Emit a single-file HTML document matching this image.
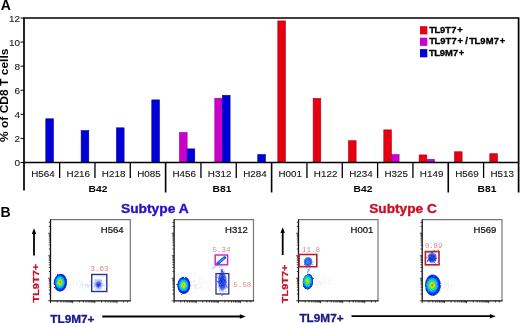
<!DOCTYPE html>
<html><head><meta charset="utf-8"><style>
html,body{margin:0;padding:0;background:#fff;overflow:hidden;}
svg{display:block;font-family:"Liberation Sans", sans-serif;filter:blur(0.3px);}
</style></head><body>
<svg width="520" height="323" viewBox="0 0 520 323">
<rect width="520" height="323" fill="#fff"/>
<text x="0.8" y="10.2" font-size="14" font-weight="bold" fill="#000">A</text>
<rect x="45.80" y="118.79" width="7.65" height="43.71" fill="#0000d8" stroke="#00009a" stroke-width="0.6"/>
<rect x="81.13" y="130.59" width="7.65" height="31.91" fill="#0000d8" stroke="#00009a" stroke-width="0.6"/>
<rect x="116.46" y="127.82" width="7.65" height="34.68" fill="#0000d8" stroke="#00009a" stroke-width="0.6"/>
<rect x="151.79" y="99.89" width="7.65" height="62.61" fill="#0000d8" stroke="#00009a" stroke-width="0.6"/>
<rect x="179.47" y="132.52" width="7.65" height="29.98" fill="#cc00cc" stroke="#9a009a" stroke-width="0.6"/>
<rect x="187.12" y="148.89" width="7.65" height="13.61" fill="#0000d8" stroke="#00009a" stroke-width="0.6"/>
<rect x="214.80" y="98.21" width="7.65" height="64.29" fill="#cc00cc" stroke="#9a009a" stroke-width="0.6"/>
<rect x="222.45" y="95.32" width="7.65" height="67.18" fill="#0000d8" stroke="#00009a" stroke-width="0.6"/>
<rect x="257.78" y="154.55" width="7.65" height="7.95" fill="#0000d8" stroke="#00009a" stroke-width="0.6"/>
<rect x="277.81" y="20.91" width="7.65" height="141.59" fill="#e60010" stroke="#b00010" stroke-width="0.6"/>
<rect x="313.14" y="98.45" width="7.65" height="64.05" fill="#e60010" stroke="#b00010" stroke-width="0.6"/>
<rect x="348.47" y="140.71" width="7.65" height="21.79" fill="#e60010" stroke="#b00010" stroke-width="0.6"/>
<rect x="383.80" y="129.87" width="7.65" height="32.63" fill="#e60010" stroke="#b00010" stroke-width="0.6"/>
<rect x="391.45" y="154.55" width="7.65" height="7.95" fill="#cc00cc" stroke="#9a009a" stroke-width="0.6"/>
<rect x="419.13" y="154.91" width="7.65" height="7.59" fill="#e60010" stroke="#b00010" stroke-width="0.6"/>
<rect x="426.78" y="159.25" width="7.65" height="3.25" fill="#cc00cc" stroke="#9a009a" stroke-width="0.6"/>
<rect x="454.46" y="151.78" width="7.65" height="10.72" fill="#e60010" stroke="#b00010" stroke-width="0.6"/>
<rect x="489.79" y="153.71" width="7.65" height="8.79" fill="#e60010" stroke="#b00010" stroke-width="0.6"/>
<path d="M24 18 H518.6 V192.5 M24 17.2 V190.6 M23.2 162.5 H519.4" stroke="#000" stroke-width="1.7" fill="none"/>
<path d="M20.5 162.50 H24" stroke="#000" stroke-width="1"/>
<text x="20.0" y="166.25" font-size="9.2" text-anchor="end" fill="#1a1a1a" stroke="#1a1a1a" stroke-width="0.1" textLength="5.6" lengthAdjust="spacingAndGlyphs">0</text>
<path d="M20.5 138.42 H24" stroke="#000" stroke-width="1"/>
<text x="20.0" y="142.17" font-size="9.2" text-anchor="end" fill="#1a1a1a" stroke="#1a1a1a" stroke-width="0.1" textLength="5.6" lengthAdjust="spacingAndGlyphs">2</text>
<path d="M20.5 114.34 H24" stroke="#000" stroke-width="1"/>
<text x="20.0" y="118.09" font-size="9.2" text-anchor="end" fill="#1a1a1a" stroke="#1a1a1a" stroke-width="0.1" textLength="5.6" lengthAdjust="spacingAndGlyphs">4</text>
<path d="M20.5 90.26 H24" stroke="#000" stroke-width="1"/>
<text x="20.0" y="94.01" font-size="9.2" text-anchor="end" fill="#1a1a1a" stroke="#1a1a1a" stroke-width="0.1" textLength="5.6" lengthAdjust="spacingAndGlyphs">6</text>
<path d="M20.5 66.18 H24" stroke="#000" stroke-width="1"/>
<text x="20.0" y="69.93" font-size="9.2" text-anchor="end" fill="#1a1a1a" stroke="#1a1a1a" stroke-width="0.1" textLength="5.6" lengthAdjust="spacingAndGlyphs">8</text>
<path d="M20.5 42.10 H24" stroke="#000" stroke-width="1"/>
<text x="20.0" y="45.85" font-size="9.2" text-anchor="end" fill="#1a1a1a" stroke="#1a1a1a" stroke-width="0.1" textLength="11.0" lengthAdjust="spacingAndGlyphs">10</text>
<path d="M20.5 18.02 H24" stroke="#000" stroke-width="1"/>
<text x="20.0" y="21.77" font-size="9.2" text-anchor="end" fill="#1a1a1a" stroke="#1a1a1a" stroke-width="0.1" textLength="11.0" lengthAdjust="spacingAndGlyphs">12</text>
<path d="M59.63 162.5 V178" stroke="#000" stroke-width="1.3"/>
<path d="M94.96 162.5 V178" stroke="#000" stroke-width="1.3"/>
<path d="M130.29 162.5 V178" stroke="#000" stroke-width="1.3"/>
<path d="M165.62 162.5 V192.5" stroke="#000" stroke-width="1.6"/>
<path d="M200.95 162.5 V178" stroke="#000" stroke-width="1.3"/>
<path d="M236.28 162.5 V178" stroke="#000" stroke-width="1.3"/>
<path d="M271.61 162.5 V192.5" stroke="#000" stroke-width="1.6"/>
<path d="M306.94 162.5 V178" stroke="#000" stroke-width="1.3"/>
<path d="M342.27 162.5 V178" stroke="#000" stroke-width="1.3"/>
<path d="M377.60 162.5 V178" stroke="#000" stroke-width="1.3"/>
<path d="M412.93 162.5 V178" stroke="#000" stroke-width="1.3"/>
<path d="M448.26 162.5 V192.5" stroke="#000" stroke-width="1.6"/>
<path d="M483.59 162.5 V178" stroke="#000" stroke-width="1.3"/>
<text x="42.97" y="177.4" font-size="9" text-anchor="middle" fill="#151515" stroke="#151515" stroke-width="0.12" textLength="23.5" lengthAdjust="spacingAndGlyphs">H564</text>
<text x="78.29" y="177.4" font-size="9" text-anchor="middle" fill="#151515" stroke="#151515" stroke-width="0.12" textLength="23.5" lengthAdjust="spacingAndGlyphs">H216</text>
<text x="113.62" y="177.4" font-size="9" text-anchor="middle" fill="#151515" stroke="#151515" stroke-width="0.12" textLength="23.5" lengthAdjust="spacingAndGlyphs">H218</text>
<text x="148.95" y="177.4" font-size="9" text-anchor="middle" fill="#151515" stroke="#151515" stroke-width="0.12" textLength="23.5" lengthAdjust="spacingAndGlyphs">H085</text>
<text x="184.28" y="177.4" font-size="9" text-anchor="middle" fill="#151515" stroke="#151515" stroke-width="0.12" textLength="23.5" lengthAdjust="spacingAndGlyphs">H456</text>
<text x="219.61" y="177.4" font-size="9" text-anchor="middle" fill="#151515" stroke="#151515" stroke-width="0.12" textLength="23.5" lengthAdjust="spacingAndGlyphs">H312</text>
<text x="254.94" y="177.4" font-size="9" text-anchor="middle" fill="#151515" stroke="#151515" stroke-width="0.12" textLength="23.5" lengthAdjust="spacingAndGlyphs">H284</text>
<text x="290.28" y="177.4" font-size="9" text-anchor="middle" fill="#151515" stroke="#151515" stroke-width="0.12" textLength="23.5" lengthAdjust="spacingAndGlyphs">H001</text>
<text x="325.61" y="177.4" font-size="9" text-anchor="middle" fill="#151515" stroke="#151515" stroke-width="0.12" textLength="23.5" lengthAdjust="spacingAndGlyphs">H122</text>
<text x="360.94" y="177.4" font-size="9" text-anchor="middle" fill="#151515" stroke="#151515" stroke-width="0.12" textLength="23.5" lengthAdjust="spacingAndGlyphs">H234</text>
<text x="396.26" y="177.4" font-size="9" text-anchor="middle" fill="#151515" stroke="#151515" stroke-width="0.12" textLength="23.5" lengthAdjust="spacingAndGlyphs">H325</text>
<text x="431.60" y="177.4" font-size="9" text-anchor="middle" fill="#151515" stroke="#151515" stroke-width="0.12" textLength="23.5" lengthAdjust="spacingAndGlyphs">H149</text>
<text x="466.93" y="177.4" font-size="9" text-anchor="middle" fill="#151515" stroke="#151515" stroke-width="0.12" textLength="23.5" lengthAdjust="spacingAndGlyphs">H569</text>
<text x="502.25" y="177.4" font-size="9" text-anchor="middle" fill="#151515" stroke="#151515" stroke-width="0.12" textLength="23.5" lengthAdjust="spacingAndGlyphs">H513</text>
<text x="98" y="191.8" font-size="9.3" font-weight="bold" text-anchor="middle" fill="#000" textLength="18.8" lengthAdjust="spacingAndGlyphs">B42</text>
<text x="222" y="191.8" font-size="9.3" font-weight="bold" text-anchor="middle" fill="#000" textLength="18.8" lengthAdjust="spacingAndGlyphs">B81</text>
<text x="363" y="191.8" font-size="9.3" font-weight="bold" text-anchor="middle" fill="#000" textLength="18.8" lengthAdjust="spacingAndGlyphs">B42</text>
<text x="487" y="191.8" font-size="9.3" font-weight="bold" text-anchor="middle" fill="#000" textLength="18.8" lengthAdjust="spacingAndGlyphs">B81</text>
<text transform="translate(8.4 95.3) rotate(-90)" font-size="10" font-weight="bold" text-anchor="middle" fill="#000" textLength="93.5" lengthAdjust="spacingAndGlyphs">% of CD8 T cells</text>
<rect x="420" y="26.20" width="7.3" height="8.2" fill="#e60010"/>
<text transform="translate(432.02 32.60) scale(1.12 1)" font-size="8.4" text-anchor="middle" font-weight="bold" fill="#000" stroke="#000" stroke-width="0.3">T</text>
<text transform="translate(437.29 32.60) scale(1.12 1)" font-size="8.4" text-anchor="middle" font-weight="bold" fill="#000" stroke="#000" stroke-width="0.3">L</text>
<text transform="translate(442.66 32.60) scale(1.12 1)" font-size="8.4" text-anchor="middle" font-weight="bold" fill="#000" stroke="#000" stroke-width="0.3">9</text>
<text transform="translate(448.22 32.60) scale(1.12 1)" font-size="8.4" text-anchor="middle" font-weight="bold" fill="#000" stroke="#000" stroke-width="0.3">T</text>
<text transform="translate(453.78 32.60) scale(1.12 1)" font-size="8.4" text-anchor="middle" font-weight="bold" fill="#000" stroke="#000" stroke-width="0.3">7</text>
<text transform="translate(459.96 32.60) scale(1.12 1)" font-size="8.4" text-anchor="middle" font-weight="bold" fill="#000" stroke="#000" stroke-width="0.3">+</text>
<rect x="420" y="37.65" width="7.3" height="8.2" fill="#cc00cc"/>
<text transform="translate(432.06 44.05) scale(1.12 1)" font-size="8.4" text-anchor="middle" font-weight="bold" fill="#000" stroke="#000" stroke-width="0.3">T</text>
<text transform="translate(437.39 44.05) scale(1.12 1)" font-size="8.4" text-anchor="middle" font-weight="bold" fill="#000" stroke="#000" stroke-width="0.3">L</text>
<text transform="translate(442.84 44.05) scale(1.12 1)" font-size="8.4" text-anchor="middle" font-weight="bold" fill="#000" stroke="#000" stroke-width="0.3">9</text>
<text transform="translate(448.47 44.05) scale(1.12 1)" font-size="8.4" text-anchor="middle" font-weight="bold" fill="#000" stroke="#000" stroke-width="0.3">T</text>
<text transform="translate(454.10 44.05) scale(1.12 1)" font-size="8.4" text-anchor="middle" font-weight="bold" fill="#000" stroke="#000" stroke-width="0.3">7</text>
<text transform="translate(460.36 44.05) scale(1.12 1)" font-size="8.4" text-anchor="middle" font-weight="bold" fill="#000" stroke="#000" stroke-width="0.3">+</text>
<text transform="translate(466.53 44.05) scale(1.12 1)" font-size="8.4" text-anchor="middle" font-weight="bold" fill="#000" stroke="#000" stroke-width="0.3">/</text>
<text transform="translate(472.07 44.05) scale(1.12 1)" font-size="8.4" text-anchor="middle" font-weight="bold" fill="#000" stroke="#000" stroke-width="0.3">T</text>
<text transform="translate(477.40 44.05) scale(1.12 1)" font-size="8.4" text-anchor="middle" font-weight="bold" fill="#000" stroke="#000" stroke-width="0.3">L</text>
<text transform="translate(482.85 44.05) scale(1.12 1)" font-size="8.4" text-anchor="middle" font-weight="bold" fill="#000" stroke="#000" stroke-width="0.3">9</text>
<text transform="translate(489.56 44.05) scale(1.12 1)" font-size="8.4" text-anchor="middle" font-weight="bold" fill="#000" stroke="#000" stroke-width="0.3">M</text>
<text transform="translate(496.26 44.05) scale(1.12 1)" font-size="8.4" text-anchor="middle" font-weight="bold" fill="#000" stroke="#000" stroke-width="0.3">7</text>
<text transform="translate(502.52 44.05) scale(1.12 1)" font-size="8.4" text-anchor="middle" font-weight="bold" fill="#000" stroke="#000" stroke-width="0.3">+</text>
<rect x="420" y="49.10" width="7.3" height="8.2" fill="#0000d8"/>
<text transform="translate(431.98 55.50) scale(1.12 1)" font-size="8.4" text-anchor="middle" font-weight="bold" fill="#000" stroke="#000" stroke-width="0.3">T</text>
<text transform="translate(437.17 55.50) scale(1.12 1)" font-size="8.4" text-anchor="middle" font-weight="bold" fill="#000" stroke="#000" stroke-width="0.3">L</text>
<text transform="translate(442.47 55.50) scale(1.12 1)" font-size="8.4" text-anchor="middle" font-weight="bold" fill="#000" stroke="#000" stroke-width="0.3">9</text>
<text transform="translate(449.00 55.50) scale(1.12 1)" font-size="8.4" text-anchor="middle" font-weight="bold" fill="#000" stroke="#000" stroke-width="0.3">M</text>
<text transform="translate(455.52 55.50) scale(1.12 1)" font-size="8.4" text-anchor="middle" font-weight="bold" fill="#000" stroke="#000" stroke-width="0.3">7</text>
<text transform="translate(461.61 55.50) scale(1.12 1)" font-size="8.4" text-anchor="middle" font-weight="bold" fill="#000" stroke="#000" stroke-width="0.3">+</text>
<text x="0.4" y="216.8" font-size="14" font-weight="bold" fill="#000">B</text>
<text x="121" y="212.9" font-size="12" font-weight="bold" fill="#2a12c4" stroke="#2a12c4" stroke-width="0.35" textLength="67.6" lengthAdjust="spacingAndGlyphs">Subtype A</text>
<text x="369.2" y="212.9" font-size="12" font-weight="bold" fill="#cc1028" stroke="#cc1028" stroke-width="0.35" textLength="67.6" lengthAdjust="spacingAndGlyphs">Subtype C</text>
<path d="M34 255.5 V232.3" stroke="#000" stroke-width="1.8"/>
<path d="M31.8 233.9 L34 228.3 L36.2 233.9 Z" fill="#000"/>
<path d="M282.7 255 V231.3" stroke="#000" stroke-width="1.8"/>
<path d="M280.5 232.9 L282.7 227.3 L284.9 232.9 Z" fill="#000"/>
<text transform="translate(38.7 283.2) rotate(-90)" font-size="9.8" font-weight="bold" text-anchor="middle" fill="#c8102a" stroke="#c8102a" stroke-width="0.25" textLength="38.6" lengthAdjust="spacingAndGlyphs">TL9T7+</text>
<text transform="translate(288.1 283.9) rotate(-90)" font-size="9.8" font-weight="bold" text-anchor="middle" fill="#c8102a" stroke="#c8102a" stroke-width="0.25" textLength="38.6" lengthAdjust="spacingAndGlyphs">TL9T7+</text>
<text x="50.3" y="322.6" font-size="10.8" font-weight="bold" fill="#1a1a88" stroke="#1a1a88" stroke-width="0.3" textLength="44.2" lengthAdjust="spacingAndGlyphs">TL9M7+</text>
<text x="299.4" y="322.3" font-size="10.8" font-weight="bold" fill="#1a1a88" stroke="#1a1a88" stroke-width="0.3" textLength="44.2" lengthAdjust="spacingAndGlyphs">TL9M7+</text>
<path d="M102.3 316.5 H241.8" stroke="#000" stroke-width="1.8"/>
<path d="M239.8 314.2 L245.8 316.5 L239.8 318.8 Z" fill="#000"/>
<path d="M351.5 316.2 H491.8" stroke="#000" stroke-width="1.8"/>
<path d="M489.8 313.9 L495.8 316.2 L489.8 318.5 Z" fill="#000"/>
<defs><filter id="rough" x="-30%" y="-30%" width="160%" height="160%"><feTurbulence type="fractalNoise" baseFrequency="0.9" numOctaves="2" seed="3" result="t"/><feDisplacementMap in="SourceGraphic" in2="t" scale="2.2" xChannelSelector="R" yChannelSelector="G"/></filter></defs>
<path d="M50.5 219.7 H130.3 V300.8" stroke="#777" stroke-width="1.2" fill="none"/>
<path d="M50.5 219.2 V300.8 H130.9" stroke="#111" stroke-width="1.3" fill="none"/>
<path d="M48.10 300.80 H50.5" stroke="#222" stroke-width="0.8"/>
<path d="M50.50 300.8 V303.20" stroke="#222" stroke-width="0.9"/>
<path d="M48.80 294.02 H50.5" stroke="#222" stroke-width="0.8"/>
<path d="M57.17 300.8 V302.50" stroke="#222" stroke-width="0.9"/>
<path d="M48.80 290.05 H50.5" stroke="#222" stroke-width="0.8"/>
<path d="M61.08 300.8 V302.50" stroke="#222" stroke-width="0.9"/>
<path d="M48.80 287.24 H50.5" stroke="#222" stroke-width="0.8"/>
<path d="M63.85 300.8 V302.50" stroke="#222" stroke-width="0.9"/>
<path d="M48.80 285.05 H50.5" stroke="#222" stroke-width="0.8"/>
<path d="M65.99 300.8 V302.50" stroke="#222" stroke-width="0.9"/>
<path d="M48.80 283.27 H50.5" stroke="#222" stroke-width="0.8"/>
<path d="M67.75 300.8 V302.50" stroke="#222" stroke-width="0.9"/>
<path d="M48.80 281.76 H50.5" stroke="#222" stroke-width="0.8"/>
<path d="M69.23 300.8 V302.50" stroke="#222" stroke-width="0.9"/>
<path d="M48.80 280.46 H50.5" stroke="#222" stroke-width="0.8"/>
<path d="M70.52 300.8 V302.50" stroke="#222" stroke-width="0.9"/>
<path d="M48.80 279.30 H50.5" stroke="#222" stroke-width="0.8"/>
<path d="M71.65 300.8 V302.50" stroke="#222" stroke-width="0.9"/>
<path d="M48.10 278.27 H50.5" stroke="#222" stroke-width="0.8"/>
<path d="M72.67 300.8 V303.20" stroke="#222" stroke-width="0.9"/>
<path d="M48.80 271.49 H50.5" stroke="#222" stroke-width="0.8"/>
<path d="M79.34 300.8 V302.50" stroke="#222" stroke-width="0.9"/>
<path d="M48.80 267.52 H50.5" stroke="#222" stroke-width="0.8"/>
<path d="M83.24 300.8 V302.50" stroke="#222" stroke-width="0.9"/>
<path d="M48.80 264.71 H50.5" stroke="#222" stroke-width="0.8"/>
<path d="M86.01 300.8 V302.50" stroke="#222" stroke-width="0.9"/>
<path d="M48.80 262.53 H50.5" stroke="#222" stroke-width="0.8"/>
<path d="M88.16 300.8 V302.50" stroke="#222" stroke-width="0.9"/>
<path d="M48.80 260.74 H50.5" stroke="#222" stroke-width="0.8"/>
<path d="M89.92 300.8 V302.50" stroke="#222" stroke-width="0.9"/>
<path d="M48.80 259.23 H50.5" stroke="#222" stroke-width="0.8"/>
<path d="M91.40 300.8 V302.50" stroke="#222" stroke-width="0.9"/>
<path d="M48.80 257.93 H50.5" stroke="#222" stroke-width="0.8"/>
<path d="M92.69 300.8 V302.50" stroke="#222" stroke-width="0.9"/>
<path d="M48.80 256.78 H50.5" stroke="#222" stroke-width="0.8"/>
<path d="M93.82 300.8 V302.50" stroke="#222" stroke-width="0.9"/>
<path d="M48.10 255.74 H50.5" stroke="#222" stroke-width="0.8"/>
<path d="M94.83 300.8 V303.20" stroke="#222" stroke-width="0.9"/>
<path d="M48.80 248.96 H50.5" stroke="#222" stroke-width="0.8"/>
<path d="M101.51 300.8 V302.50" stroke="#222" stroke-width="0.9"/>
<path d="M48.80 245.00 H50.5" stroke="#222" stroke-width="0.8"/>
<path d="M105.41 300.8 V302.50" stroke="#222" stroke-width="0.9"/>
<path d="M48.80 242.18 H50.5" stroke="#222" stroke-width="0.8"/>
<path d="M108.18 300.8 V302.50" stroke="#222" stroke-width="0.9"/>
<path d="M48.80 240.00 H50.5" stroke="#222" stroke-width="0.8"/>
<path d="M110.33 300.8 V302.50" stroke="#222" stroke-width="0.9"/>
<path d="M48.80 238.21 H50.5" stroke="#222" stroke-width="0.8"/>
<path d="M112.08 300.8 V302.50" stroke="#222" stroke-width="0.9"/>
<path d="M48.80 236.71 H50.5" stroke="#222" stroke-width="0.8"/>
<path d="M113.57 300.8 V302.50" stroke="#222" stroke-width="0.9"/>
<path d="M48.80 235.40 H50.5" stroke="#222" stroke-width="0.8"/>
<path d="M114.85 300.8 V302.50" stroke="#222" stroke-width="0.9"/>
<path d="M48.80 234.25 H50.5" stroke="#222" stroke-width="0.8"/>
<path d="M115.99 300.8 V302.50" stroke="#222" stroke-width="0.9"/>
<path d="M48.10 233.22 H50.5" stroke="#222" stroke-width="0.8"/>
<path d="M117.00 300.8 V303.20" stroke="#222" stroke-width="0.9"/>
<path d="M48.80 226.44 H50.5" stroke="#222" stroke-width="0.8"/>
<path d="M123.67 300.8 V302.50" stroke="#222" stroke-width="0.9"/>
<path d="M48.80 222.47 H50.5" stroke="#222" stroke-width="0.8"/>
<path d="M127.58 300.8 V302.50" stroke="#222" stroke-width="0.9"/>
<text x="100.8" y="233" font-size="9" fill="#111" stroke="#111" stroke-width="0.22" textLength="22.8" lengthAdjust="spacingAndGlyphs">H564</text>
<circle cx="77.46" cy="285.28" r="0.4" fill="#8898ff" opacity="0.4"/>
<circle cx="77.64" cy="283.21" r="0.4" fill="#8898ff" opacity="0.4"/>
<circle cx="73.42" cy="283.47" r="0.4" fill="#8898ff" opacity="0.4"/>
<circle cx="85.67" cy="285.06" r="0.4" fill="#8898ff" opacity="0.4"/>
<circle cx="85.22" cy="284.62" r="0.4" fill="#8898ff" opacity="0.4"/>
<circle cx="81.37" cy="284.46" r="0.4" fill="#8898ff" opacity="0.4"/>
<circle cx="69.00" cy="286.14" r="0.4" fill="#8898ff" opacity="0.4"/>
<circle cx="82.04" cy="285.25" r="0.4" fill="#8898ff" opacity="0.4"/>
<circle cx="68.85" cy="279.64" r="0.4" fill="#8898ff" opacity="0.4"/>
<circle cx="73.66" cy="282.83" r="0.4" fill="#8898ff" opacity="0.4"/>
<circle cx="80.83" cy="283.89" r="0.4" fill="#8898ff" opacity="0.4"/>
<circle cx="82.13" cy="282.39" r="0.4" fill="#8898ff" opacity="0.4"/>
<circle cx="80.85" cy="284.99" r="0.4" fill="#8898ff" opacity="0.4"/>
<circle cx="75.03" cy="288.29" r="0.4" fill="#8898ff" opacity="0.4"/>
<circle cx="82.34" cy="286.99" r="0.4" fill="#8898ff" opacity="0.4"/>
<circle cx="75.28" cy="282.15" r="0.4" fill="#8898ff" opacity="0.4"/>
<circle cx="76.94" cy="283.73" r="0.4" fill="#8898ff" opacity="0.4"/>
<circle cx="82.79" cy="284.62" r="0.4" fill="#8898ff" opacity="0.4"/>
<circle cx="76.32" cy="281.61" r="0.4" fill="#8898ff" opacity="0.4"/>
<circle cx="75.88" cy="287.05" r="0.4" fill="#8898ff" opacity="0.4"/>
<circle cx="74.15" cy="284.61" r="0.4" fill="#8898ff" opacity="0.4"/>
<circle cx="81.56" cy="280.28" r="0.4" fill="#8898ff" opacity="0.4"/>
<circle cx="79.29" cy="287.27" r="0.4" fill="#8898ff" opacity="0.4"/>
<circle cx="66.91" cy="283.20" r="0.4" fill="#8898ff" opacity="0.4"/>
<circle cx="78.36" cy="281.96" r="0.4" fill="#8898ff" opacity="0.4"/>
<circle cx="81.98" cy="283.84" r="0.4" fill="#8898ff" opacity="0.4"/>
<circle cx="70.21" cy="286.07" r="0.4" fill="#8898ff" opacity="0.4"/>
<circle cx="83.02" cy="286.36" r="0.4" fill="#8898ff" opacity="0.4"/>
<circle cx="87.64" cy="284.91" r="0.4" fill="#8898ff" opacity="0.4"/>
<circle cx="79.72" cy="280.75" r="0.4" fill="#8898ff" opacity="0.4"/>
<circle cx="82.69" cy="282.47" r="0.4" fill="#8898ff" opacity="0.4"/>
<circle cx="76.28" cy="280.84" r="0.4" fill="#8898ff" opacity="0.4"/>
<circle cx="73.19" cy="282.67" r="0.4" fill="#8898ff" opacity="0.4"/>
<circle cx="86.73" cy="278.92" r="0.4" fill="#8898ff" opacity="0.4"/>
<circle cx="70.25" cy="284.60" r="0.4" fill="#8898ff" opacity="0.4"/>
<circle cx="87.66" cy="285.45" r="0.4" fill="#8898ff" opacity="0.4"/>
<circle cx="67.60" cy="277.70" r="0.4" fill="#8898ff" opacity="0.4"/>
<circle cx="81.14" cy="282.16" r="0.4" fill="#8898ff" opacity="0.4"/>
<circle cx="72.28" cy="286.44" r="0.4" fill="#8898ff" opacity="0.4"/>
<circle cx="85.61" cy="284.39" r="0.4" fill="#8898ff" opacity="0.4"/>
<circle cx="80.47" cy="285.09" r="0.4" fill="#8898ff" opacity="0.4"/>
<circle cx="88.56" cy="285.55" r="0.4" fill="#8898ff" opacity="0.4"/>
<circle cx="82.11" cy="285.37" r="0.4" fill="#8898ff" opacity="0.4"/>
<circle cx="69.59" cy="287.20" r="0.4" fill="#8898ff" opacity="0.4"/>
<circle cx="84.73" cy="285.32" r="0.4" fill="#8898ff" opacity="0.4"/>
<circle cx="83.07" cy="283.73" r="0.45" fill="#8898ff" opacity="0.5"/>
<circle cx="90.11" cy="281.38" r="0.45" fill="#8898ff" opacity="0.5"/>
<circle cx="87.54" cy="287.04" r="0.45" fill="#8898ff" opacity="0.5"/>
<circle cx="84.72" cy="288.22" r="0.45" fill="#8898ff" opacity="0.5"/>
<circle cx="89.38" cy="284.70" r="0.45" fill="#8898ff" opacity="0.5"/>
<circle cx="88.81" cy="286.30" r="0.45" fill="#8898ff" opacity="0.5"/>
<circle cx="88.30" cy="287.29" r="0.45" fill="#8898ff" opacity="0.5"/>
<circle cx="86.35" cy="284.17" r="0.45" fill="#8898ff" opacity="0.5"/>
<circle cx="90.60" cy="285.05" r="0.45" fill="#8898ff" opacity="0.5"/>
<circle cx="85.80" cy="286.89" r="0.45" fill="#8898ff" opacity="0.5"/>
<circle cx="91.66" cy="284.11" r="0.45" fill="#8898ff" opacity="0.5"/>
<circle cx="84.55" cy="284.73" r="0.45" fill="#8898ff" opacity="0.5"/>
<circle cx="87.63" cy="284.40" r="0.45" fill="#8898ff" opacity="0.5"/>
<circle cx="91.51" cy="282.95" r="0.45" fill="#8898ff" opacity="0.5"/>
<circle cx="91.15" cy="282.46" r="0.45" fill="#8898ff" opacity="0.5"/>
<circle cx="86.03" cy="286.26" r="0.45" fill="#8898ff" opacity="0.5"/>
<circle cx="90.82" cy="286.72" r="0.45" fill="#8898ff" opacity="0.5"/>
<circle cx="88.86" cy="285.28" r="0.45" fill="#8898ff" opacity="0.5"/>
<circle cx="88.38" cy="286.15" r="0.45" fill="#8898ff" opacity="0.5"/>
<circle cx="87.56" cy="285.55" r="0.45" fill="#8898ff" opacity="0.5"/>
<radialGradient id="g1" cx="0.5" cy="0.5" r="0.5" fx="0.5" fy="0.5"><stop offset="0" stop-color="#1028d8" stop-opacity="1"/><stop offset="0.22" stop-color="#2040e0" stop-opacity="0.95"/><stop offset="0.5" stop-color="#5070ec" stop-opacity="0.55"/><stop offset="0.78" stop-color="#90a0f4" stop-opacity="0.3"/><stop offset="1" stop-color="#a0b0ff" stop-opacity="0"/></radialGradient>
<ellipse cx="98.4" cy="284.4" rx="6.0" ry="6.8" fill="url(#g1)" filter="url(#rough)"/>
<circle cx="99.89" cy="284.40" r="0.45" fill="#2a40e0" opacity="0.55"/>
<circle cx="100.39" cy="286.10" r="0.45" fill="#2a40e0" opacity="0.55"/>
<circle cx="103.63" cy="285.37" r="0.45" fill="#2a40e0" opacity="0.55"/>
<circle cx="97.29" cy="283.28" r="0.45" fill="#2a40e0" opacity="0.55"/>
<circle cx="98.37" cy="287.17" r="0.45" fill="#2a40e0" opacity="0.55"/>
<circle cx="97.52" cy="285.56" r="0.45" fill="#2a40e0" opacity="0.55"/>
<circle cx="103.18" cy="276.71" r="0.45" fill="#2a40e0" opacity="0.55"/>
<circle cx="95.48" cy="285.13" r="0.45" fill="#2a40e0" opacity="0.55"/>
<circle cx="99.44" cy="285.12" r="0.45" fill="#2a40e0" opacity="0.55"/>
<circle cx="97.28" cy="286.37" r="0.45" fill="#2a40e0" opacity="0.55"/>
<circle cx="99.13" cy="282.83" r="0.45" fill="#2a40e0" opacity="0.55"/>
<circle cx="104.72" cy="285.47" r="0.45" fill="#2a40e0" opacity="0.55"/>
<circle cx="96.96" cy="284.10" r="0.45" fill="#2a40e0" opacity="0.55"/>
<circle cx="97.81" cy="284.21" r="0.45" fill="#2a40e0" opacity="0.55"/>
<circle cx="91.31" cy="282.94" r="0.45" fill="#2a40e0" opacity="0.55"/>
<circle cx="101.02" cy="280.89" r="0.45" fill="#2a40e0" opacity="0.55"/>
<circle cx="98.23" cy="287.26" r="0.45" fill="#2a40e0" opacity="0.55"/>
<circle cx="100.63" cy="288.87" r="0.45" fill="#2a40e0" opacity="0.55"/>
<circle cx="93.98" cy="283.34" r="0.45" fill="#2a40e0" opacity="0.55"/>
<circle cx="97.51" cy="286.27" r="0.45" fill="#2a40e0" opacity="0.55"/>
<circle cx="101.24" cy="276.35" r="0.45" fill="#2a40e0" opacity="0.55"/>
<circle cx="101.23" cy="280.06" r="0.45" fill="#2a40e0" opacity="0.55"/>
<circle cx="100.18" cy="279.92" r="0.45" fill="#2a40e0" opacity="0.55"/>
<circle cx="98.86" cy="287.98" r="0.45" fill="#2a40e0" opacity="0.55"/>
<circle cx="98.01" cy="284.97" r="0.45" fill="#2a40e0" opacity="0.55"/>
<circle cx="100.47" cy="284.82" r="0.45" fill="#2a40e0" opacity="0.55"/>
<circle cx="98.17" cy="289.00" r="0.45" fill="#2a40e0" opacity="0.55"/>
<circle cx="101.13" cy="283.52" r="0.45" fill="#2a40e0" opacity="0.55"/>
<circle cx="105.54" cy="280.96" r="0.45" fill="#2a40e0" opacity="0.55"/>
<circle cx="100.78" cy="283.60" r="0.45" fill="#2a40e0" opacity="0.55"/>
<circle cx="98.74" cy="286.52" r="0.45" fill="#2a40e0" opacity="0.55"/>
<circle cx="98.98" cy="286.32" r="0.45" fill="#2a40e0" opacity="0.55"/>
<circle cx="94.43" cy="279.87" r="0.45" fill="#2a40e0" opacity="0.55"/>
<circle cx="100.00" cy="281.51" r="0.45" fill="#2a40e0" opacity="0.55"/>
<circle cx="95.73" cy="279.99" r="0.45" fill="#2a40e0" opacity="0.55"/>
<radialGradient id="g2" cx="0.44" cy="0.45" r="0.5" fx="0.44" fy="0.45"><stop offset="0" stop-color="#e83000" stop-opacity="1"/><stop offset="0.08" stop-color="#f08000" stop-opacity="1"/><stop offset="0.16" stop-color="#e8d800" stop-opacity="1"/><stop offset="0.26" stop-color="#90e830" stop-opacity="1"/><stop offset="0.37" stop-color="#30e070" stop-opacity="1"/><stop offset="0.5" stop-color="#00c8e0" stop-opacity="1"/><stop offset="0.62" stop-color="#0090ff" stop-opacity="1"/><stop offset="0.72" stop-color="#0040f0" stop-opacity="1"/><stop offset="0.85" stop-color="#0818d8" stop-opacity="1"/><stop offset="0.94" stop-color="#1828d0" stop-opacity="0.75"/><stop offset="1" stop-color="#3040e0" stop-opacity="0"/></radialGradient>
<ellipse cx="60.9" cy="283.3" rx="7.2" ry="9.6" fill="url(#g2)" filter="url(#rough)"/>
<rect x="91.7" y="274.5" width="15.1" height="17.0" fill="none" stroke="#28309a" stroke-width="1.4"/>
<text x="90.6" y="270.8" font-family="&quot;Liberation Mono&quot;, monospace" font-size="7.6" fill="#d68a8a" textLength="18" lengthAdjust="spacingAndGlyphs">3.63</text>
<path d="M174.1 219.7 H253.5 V300.8" stroke="#777" stroke-width="1.2" fill="none"/>
<path d="M174.1 219.2 V300.8 H254.1" stroke="#111" stroke-width="1.3" fill="none"/>
<path d="M171.70 300.80 H174.1" stroke="#222" stroke-width="0.8"/>
<path d="M174.10 300.8 V303.20" stroke="#222" stroke-width="0.9"/>
<path d="M172.40 294.02 H174.1" stroke="#222" stroke-width="0.8"/>
<path d="M180.74 300.8 V302.50" stroke="#222" stroke-width="0.9"/>
<path d="M172.40 290.05 H174.1" stroke="#222" stroke-width="0.8"/>
<path d="M184.62 300.8 V302.50" stroke="#222" stroke-width="0.9"/>
<path d="M172.40 287.24 H174.1" stroke="#222" stroke-width="0.8"/>
<path d="M187.38 300.8 V302.50" stroke="#222" stroke-width="0.9"/>
<path d="M172.40 285.05 H174.1" stroke="#222" stroke-width="0.8"/>
<path d="M189.52 300.8 V302.50" stroke="#222" stroke-width="0.9"/>
<path d="M172.40 283.27 H174.1" stroke="#222" stroke-width="0.8"/>
<path d="M191.26 300.8 V302.50" stroke="#222" stroke-width="0.9"/>
<path d="M172.40 281.76 H174.1" stroke="#222" stroke-width="0.8"/>
<path d="M192.74 300.8 V302.50" stroke="#222" stroke-width="0.9"/>
<path d="M172.40 280.46 H174.1" stroke="#222" stroke-width="0.8"/>
<path d="M194.02 300.8 V302.50" stroke="#222" stroke-width="0.9"/>
<path d="M172.40 279.30 H174.1" stroke="#222" stroke-width="0.8"/>
<path d="M195.15 300.8 V302.50" stroke="#222" stroke-width="0.9"/>
<path d="M171.70 278.27 H174.1" stroke="#222" stroke-width="0.8"/>
<path d="M196.16 300.8 V303.20" stroke="#222" stroke-width="0.9"/>
<path d="M172.40 271.49 H174.1" stroke="#222" stroke-width="0.8"/>
<path d="M202.79 300.8 V302.50" stroke="#222" stroke-width="0.9"/>
<path d="M172.40 267.52 H174.1" stroke="#222" stroke-width="0.8"/>
<path d="M206.68 300.8 V302.50" stroke="#222" stroke-width="0.9"/>
<path d="M172.40 264.71 H174.1" stroke="#222" stroke-width="0.8"/>
<path d="M209.43 300.8 V302.50" stroke="#222" stroke-width="0.9"/>
<path d="M172.40 262.53 H174.1" stroke="#222" stroke-width="0.8"/>
<path d="M211.57 300.8 V302.50" stroke="#222" stroke-width="0.9"/>
<path d="M172.40 260.74 H174.1" stroke="#222" stroke-width="0.8"/>
<path d="M213.32 300.8 V302.50" stroke="#222" stroke-width="0.9"/>
<path d="M172.40 259.23 H174.1" stroke="#222" stroke-width="0.8"/>
<path d="M214.79 300.8 V302.50" stroke="#222" stroke-width="0.9"/>
<path d="M172.40 257.93 H174.1" stroke="#222" stroke-width="0.8"/>
<path d="M216.07 300.8 V302.50" stroke="#222" stroke-width="0.9"/>
<path d="M172.40 256.78 H174.1" stroke="#222" stroke-width="0.8"/>
<path d="M217.20 300.8 V302.50" stroke="#222" stroke-width="0.9"/>
<path d="M171.70 255.74 H174.1" stroke="#222" stroke-width="0.8"/>
<path d="M218.21 300.8 V303.20" stroke="#222" stroke-width="0.9"/>
<path d="M172.40 248.96 H174.1" stroke="#222" stroke-width="0.8"/>
<path d="M224.85 300.8 V302.50" stroke="#222" stroke-width="0.9"/>
<path d="M172.40 245.00 H174.1" stroke="#222" stroke-width="0.8"/>
<path d="M228.73 300.8 V302.50" stroke="#222" stroke-width="0.9"/>
<path d="M172.40 242.18 H174.1" stroke="#222" stroke-width="0.8"/>
<path d="M231.49 300.8 V302.50" stroke="#222" stroke-width="0.9"/>
<path d="M172.40 240.00 H174.1" stroke="#222" stroke-width="0.8"/>
<path d="M233.63 300.8 V302.50" stroke="#222" stroke-width="0.9"/>
<path d="M172.40 238.21 H174.1" stroke="#222" stroke-width="0.8"/>
<path d="M235.37 300.8 V302.50" stroke="#222" stroke-width="0.9"/>
<path d="M172.40 236.71 H174.1" stroke="#222" stroke-width="0.8"/>
<path d="M236.85 300.8 V302.50" stroke="#222" stroke-width="0.9"/>
<path d="M172.40 235.40 H174.1" stroke="#222" stroke-width="0.8"/>
<path d="M238.13 300.8 V302.50" stroke="#222" stroke-width="0.9"/>
<path d="M172.40 234.25 H174.1" stroke="#222" stroke-width="0.8"/>
<path d="M239.26 300.8 V302.50" stroke="#222" stroke-width="0.9"/>
<path d="M171.70 233.22 H174.1" stroke="#222" stroke-width="0.8"/>
<path d="M240.27 300.8 V303.20" stroke="#222" stroke-width="0.9"/>
<path d="M172.40 226.44 H174.1" stroke="#222" stroke-width="0.8"/>
<path d="M246.91 300.8 V302.50" stroke="#222" stroke-width="0.9"/>
<path d="M172.40 222.47 H174.1" stroke="#222" stroke-width="0.8"/>
<path d="M250.79 300.8 V302.50" stroke="#222" stroke-width="0.9"/>
<text x="225" y="233" font-size="9" fill="#111" stroke="#111" stroke-width="0.22" textLength="22.8" lengthAdjust="spacingAndGlyphs">H312</text>
<circle cx="208.86" cy="286.99" r="0.4" fill="#8898ff" opacity="0.4"/>
<circle cx="210.31" cy="280.25" r="0.4" fill="#8898ff" opacity="0.4"/>
<circle cx="200.01" cy="279.44" r="0.4" fill="#8898ff" opacity="0.4"/>
<circle cx="205.36" cy="290.36" r="0.4" fill="#8898ff" opacity="0.4"/>
<circle cx="193.77" cy="290.24" r="0.4" fill="#8898ff" opacity="0.4"/>
<circle cx="206.92" cy="283.29" r="0.4" fill="#8898ff" opacity="0.4"/>
<circle cx="186.20" cy="289.63" r="0.4" fill="#8898ff" opacity="0.4"/>
<circle cx="199.33" cy="281.59" r="0.4" fill="#8898ff" opacity="0.4"/>
<circle cx="202.80" cy="285.64" r="0.4" fill="#8898ff" opacity="0.4"/>
<circle cx="210.49" cy="279.92" r="0.4" fill="#8898ff" opacity="0.4"/>
<circle cx="207.95" cy="289.95" r="0.4" fill="#8898ff" opacity="0.4"/>
<circle cx="210.17" cy="283.28" r="0.4" fill="#8898ff" opacity="0.4"/>
<circle cx="194.79" cy="288.07" r="0.4" fill="#8898ff" opacity="0.4"/>
<circle cx="200.81" cy="284.50" r="0.4" fill="#8898ff" opacity="0.4"/>
<circle cx="209.97" cy="282.95" r="0.4" fill="#8898ff" opacity="0.4"/>
<circle cx="183.92" cy="282.45" r="0.4" fill="#8898ff" opacity="0.4"/>
<circle cx="187.02" cy="287.28" r="0.4" fill="#8898ff" opacity="0.4"/>
<circle cx="202.22" cy="281.56" r="0.4" fill="#8898ff" opacity="0.4"/>
<circle cx="199.93" cy="287.33" r="0.4" fill="#8898ff" opacity="0.4"/>
<circle cx="200.55" cy="289.31" r="0.4" fill="#8898ff" opacity="0.4"/>
<circle cx="199.57" cy="288.16" r="0.4" fill="#8898ff" opacity="0.4"/>
<circle cx="210.44" cy="290.44" r="0.4" fill="#8898ff" opacity="0.4"/>
<circle cx="195.30" cy="287.52" r="0.4" fill="#8898ff" opacity="0.4"/>
<circle cx="186.87" cy="279.67" r="0.4" fill="#8898ff" opacity="0.4"/>
<circle cx="186.26" cy="288.28" r="0.4" fill="#8898ff" opacity="0.4"/>
<circle cx="191.38" cy="283.95" r="0.4" fill="#8898ff" opacity="0.4"/>
<circle cx="198.65" cy="283.89" r="0.4" fill="#8898ff" opacity="0.4"/>
<circle cx="195.86" cy="284.93" r="0.4" fill="#8898ff" opacity="0.4"/>
<circle cx="212.54" cy="284.18" r="0.4" fill="#8898ff" opacity="0.4"/>
<circle cx="203.72" cy="288.00" r="0.4" fill="#8898ff" opacity="0.4"/>
<circle cx="198.61" cy="278.96" r="0.4" fill="#8898ff" opacity="0.4"/>
<circle cx="196.11" cy="288.29" r="0.4" fill="#8898ff" opacity="0.4"/>
<circle cx="188.48" cy="281.61" r="0.4" fill="#8898ff" opacity="0.4"/>
<circle cx="207.05" cy="287.17" r="0.4" fill="#8898ff" opacity="0.4"/>
<circle cx="200.05" cy="287.22" r="0.4" fill="#8898ff" opacity="0.4"/>
<circle cx="201.16" cy="279.28" r="0.4" fill="#8898ff" opacity="0.4"/>
<circle cx="189.05" cy="281.44" r="0.4" fill="#8898ff" opacity="0.4"/>
<circle cx="206.46" cy="281.74" r="0.4" fill="#8898ff" opacity="0.4"/>
<circle cx="193.68" cy="280.92" r="0.4" fill="#8898ff" opacity="0.4"/>
<circle cx="189.28" cy="283.53" r="0.4" fill="#8898ff" opacity="0.4"/>
<circle cx="191.74" cy="285.46" r="0.4" fill="#8898ff" opacity="0.4"/>
<circle cx="183.48" cy="285.31" r="0.4" fill="#8898ff" opacity="0.4"/>
<circle cx="195.51" cy="276.23" r="0.4" fill="#8898ff" opacity="0.4"/>
<circle cx="205.07" cy="282.90" r="0.4" fill="#8898ff" opacity="0.4"/>
<circle cx="184.39" cy="280.50" r="0.4" fill="#8898ff" opacity="0.4"/>
<circle cx="194.73" cy="281.17" r="0.45" fill="#a0a8ff" opacity="0.5"/>
<circle cx="195.95" cy="285.99" r="0.45" fill="#a0a8ff" opacity="0.5"/>
<circle cx="195.67" cy="284.31" r="0.45" fill="#a0a8ff" opacity="0.5"/>
<circle cx="197.33" cy="285.64" r="0.45" fill="#a0a8ff" opacity="0.5"/>
<circle cx="195.13" cy="274.66" r="0.45" fill="#a0a8ff" opacity="0.5"/>
<circle cx="196.24" cy="288.24" r="0.45" fill="#a0a8ff" opacity="0.5"/>
<circle cx="193.26" cy="281.12" r="0.45" fill="#a0a8ff" opacity="0.5"/>
<circle cx="198.85" cy="275.97" r="0.45" fill="#a0a8ff" opacity="0.5"/>
<circle cx="195.17" cy="292.69" r="0.45" fill="#a0a8ff" opacity="0.5"/>
<circle cx="191.68" cy="285.76" r="0.45" fill="#a0a8ff" opacity="0.5"/>
<circle cx="198.72" cy="282.52" r="0.45" fill="#a0a8ff" opacity="0.5"/>
<circle cx="195.40" cy="286.61" r="0.45" fill="#a0a8ff" opacity="0.5"/>
<circle cx="191.74" cy="282.64" r="0.45" fill="#a0a8ff" opacity="0.5"/>
<circle cx="194.73" cy="286.30" r="0.45" fill="#a0a8ff" opacity="0.5"/>
<circle cx="193.91" cy="282.22" r="0.45" fill="#a0a8ff" opacity="0.5"/>
<circle cx="191.46" cy="281.56" r="0.45" fill="#a0a8ff" opacity="0.5"/>
<circle cx="196.23" cy="283.41" r="0.45" fill="#a0a8ff" opacity="0.5"/>
<circle cx="191.87" cy="279.63" r="0.45" fill="#a0a8ff" opacity="0.5"/>
<circle cx="200.67" cy="287.56" r="0.45" fill="#a0a8ff" opacity="0.5"/>
<circle cx="195.59" cy="272.63" r="0.45" fill="#a0a8ff" opacity="0.5"/>
<circle cx="195.55" cy="284.92" r="0.45" fill="#a0a8ff" opacity="0.5"/>
<circle cx="198.21" cy="284.71" r="0.45" fill="#a0a8ff" opacity="0.5"/>
<circle cx="193.83" cy="285.09" r="0.45" fill="#a0a8ff" opacity="0.5"/>
<circle cx="189.14" cy="287.13" r="0.45" fill="#a0a8ff" opacity="0.5"/>
<circle cx="194.81" cy="280.19" r="0.45" fill="#a0a8ff" opacity="0.5"/>
<radialGradient id="g3" cx="0.5" cy="0.5" r="0.5" fx="0.5" fy="0.5"><stop offset="0" stop-color="#1030e0" stop-opacity="1"/><stop offset="0.4" stop-color="#1838e0" stop-opacity="1"/><stop offset="0.7" stop-color="#3050e8" stop-opacity="0.8"/><stop offset="1" stop-color="#6080ff" stop-opacity="0"/></radialGradient>
<ellipse cx="222.3" cy="281.5" rx="5.2" ry="11" fill="url(#g3)" filter="url(#rough)"/>
<circle cx="225.75" cy="291.45" r="0.5" fill="#2038d8" opacity="0.7"/>
<circle cx="218.65" cy="277.84" r="0.5" fill="#2038d8" opacity="0.7"/>
<circle cx="223.06" cy="282.51" r="0.5" fill="#2038d8" opacity="0.7"/>
<circle cx="221.26" cy="276.14" r="0.5" fill="#2038d8" opacity="0.7"/>
<circle cx="227.81" cy="287.21" r="0.5" fill="#2038d8" opacity="0.7"/>
<circle cx="219.20" cy="274.10" r="0.5" fill="#2038d8" opacity="0.7"/>
<circle cx="226.73" cy="286.94" r="0.5" fill="#2038d8" opacity="0.7"/>
<circle cx="227.03" cy="285.96" r="0.5" fill="#2038d8" opacity="0.7"/>
<circle cx="220.03" cy="282.93" r="0.5" fill="#2038d8" opacity="0.7"/>
<circle cx="216.68" cy="277.39" r="0.5" fill="#2038d8" opacity="0.7"/>
<circle cx="222.15" cy="284.38" r="0.5" fill="#2038d8" opacity="0.7"/>
<circle cx="220.41" cy="280.82" r="0.5" fill="#2038d8" opacity="0.7"/>
<circle cx="223.49" cy="283.57" r="0.5" fill="#2038d8" opacity="0.7"/>
<circle cx="223.96" cy="282.65" r="0.5" fill="#2038d8" opacity="0.7"/>
<circle cx="221.46" cy="285.84" r="0.5" fill="#2038d8" opacity="0.7"/>
<circle cx="222.43" cy="276.96" r="0.5" fill="#2038d8" opacity="0.7"/>
<circle cx="220.67" cy="281.50" r="0.5" fill="#2038d8" opacity="0.7"/>
<circle cx="222.02" cy="282.36" r="0.5" fill="#2038d8" opacity="0.7"/>
<circle cx="222.30" cy="282.47" r="0.5" fill="#2038d8" opacity="0.7"/>
<circle cx="221.95" cy="274.58" r="0.5" fill="#2038d8" opacity="0.7"/>
<circle cx="223.40" cy="287.30" r="0.5" fill="#2038d8" opacity="0.7"/>
<circle cx="223.43" cy="280.46" r="0.5" fill="#2038d8" opacity="0.7"/>
<circle cx="223.46" cy="276.19" r="0.5" fill="#2038d8" opacity="0.7"/>
<circle cx="217.37" cy="281.83" r="0.5" fill="#2038d8" opacity="0.7"/>
<circle cx="219.88" cy="285.57" r="0.5" fill="#2038d8" opacity="0.7"/>
<circle cx="219.48" cy="267.04" r="0.5" fill="#2038d8" opacity="0.7"/>
<circle cx="219.60" cy="290.18" r="0.5" fill="#2038d8" opacity="0.7"/>
<circle cx="221.31" cy="273.97" r="0.5" fill="#2038d8" opacity="0.7"/>
<circle cx="220.32" cy="284.36" r="0.5" fill="#2038d8" opacity="0.7"/>
<circle cx="223.59" cy="282.47" r="0.5" fill="#2038d8" opacity="0.7"/>
<circle cx="226.16" cy="285.39" r="0.5" fill="#2038d8" opacity="0.7"/>
<circle cx="222.25" cy="284.78" r="0.5" fill="#2038d8" opacity="0.7"/>
<circle cx="226.60" cy="286.84" r="0.5" fill="#2038d8" opacity="0.7"/>
<circle cx="224.96" cy="275.54" r="0.5" fill="#2038d8" opacity="0.7"/>
<circle cx="221.91" cy="285.51" r="0.5" fill="#2038d8" opacity="0.7"/>
<circle cx="221.53" cy="287.38" r="0.5" fill="#2038d8" opacity="0.7"/>
<circle cx="223.85" cy="286.50" r="0.5" fill="#2038d8" opacity="0.7"/>
<circle cx="221.75" cy="295.51" r="0.5" fill="#2038d8" opacity="0.7"/>
<circle cx="225.52" cy="280.32" r="0.5" fill="#2038d8" opacity="0.7"/>
<circle cx="222.54" cy="295.77" r="0.5" fill="#2038d8" opacity="0.7"/>
<circle cx="221.41" cy="286.31" r="0.5" fill="#2038d8" opacity="0.7"/>
<circle cx="224.85" cy="281.54" r="0.5" fill="#2038d8" opacity="0.7"/>
<circle cx="219.27" cy="282.53" r="0.5" fill="#2038d8" opacity="0.7"/>
<circle cx="223.23" cy="287.71" r="0.5" fill="#2038d8" opacity="0.7"/>
<circle cx="224.34" cy="281.63" r="0.5" fill="#2038d8" opacity="0.7"/>
<circle cx="224.52" cy="284.47" r="0.5" fill="#2038d8" opacity="0.7"/>
<circle cx="222.84" cy="281.80" r="0.5" fill="#2038d8" opacity="0.7"/>
<circle cx="221.67" cy="285.27" r="0.5" fill="#2038d8" opacity="0.7"/>
<circle cx="219.56" cy="278.04" r="0.5" fill="#2038d8" opacity="0.7"/>
<circle cx="222.31" cy="273.45" r="0.5" fill="#2038d8" opacity="0.7"/>
<circle cx="221.17" cy="270.45" r="0.5" fill="#2038d8" opacity="0.7"/>
<circle cx="220.52" cy="284.63" r="0.5" fill="#2038d8" opacity="0.7"/>
<circle cx="223.77" cy="281.20" r="0.5" fill="#2038d8" opacity="0.7"/>
<circle cx="221.70" cy="273.71" r="0.5" fill="#2038d8" opacity="0.7"/>
<circle cx="227.05" cy="284.34" r="0.5" fill="#2038d8" opacity="0.7"/>
<circle cx="225.14" cy="276.65" r="0.5" fill="#2038d8" opacity="0.7"/>
<circle cx="221.82" cy="271.49" r="0.5" fill="#2038d8" opacity="0.7"/>
<circle cx="224.33" cy="286.64" r="0.5" fill="#2038d8" opacity="0.7"/>
<circle cx="217.37" cy="281.21" r="0.5" fill="#2038d8" opacity="0.7"/>
<circle cx="223.94" cy="271.81" r="0.5" fill="#2038d8" opacity="0.7"/>
<circle cx="217.55" cy="275.64" r="0.5" fill="#2038d8" opacity="0.7"/>
<circle cx="220.66" cy="273.78" r="0.5" fill="#2038d8" opacity="0.7"/>
<circle cx="222.38" cy="282.87" r="0.5" fill="#2038d8" opacity="0.7"/>
<circle cx="223.95" cy="285.36" r="0.5" fill="#2038d8" opacity="0.7"/>
<circle cx="226.21" cy="287.90" r="0.5" fill="#2038d8" opacity="0.7"/>
<circle cx="218.89" cy="278.72" r="0.5" fill="#2038d8" opacity="0.7"/>
<circle cx="219.54" cy="275.58" r="0.5" fill="#2038d8" opacity="0.7"/>
<circle cx="222.09" cy="281.53" r="0.5" fill="#2038d8" opacity="0.7"/>
<circle cx="223.57" cy="272.77" r="0.5" fill="#2038d8" opacity="0.7"/>
<circle cx="219.08" cy="281.37" r="0.5" fill="#2038d8" opacity="0.7"/>
<circle cx="221.78" cy="279.79" r="0.5" fill="#2038d8" opacity="0.7"/>
<circle cx="222.14" cy="277.32" r="0.5" fill="#2038d8" opacity="0.7"/>
<circle cx="224.12" cy="283.45" r="0.5" fill="#2038d8" opacity="0.7"/>
<circle cx="222.07" cy="277.80" r="0.5" fill="#2038d8" opacity="0.7"/>
<circle cx="221.85" cy="266.53" r="0.5" fill="#2038d8" opacity="0.7"/>
<circle cx="219.75" cy="281.71" r="0.5" fill="#2038d8" opacity="0.7"/>
<circle cx="218.39" cy="282.60" r="0.5" fill="#2038d8" opacity="0.7"/>
<circle cx="222.68" cy="273.92" r="0.5" fill="#2038d8" opacity="0.7"/>
<circle cx="221.65" cy="279.77" r="0.5" fill="#2038d8" opacity="0.7"/>
<circle cx="223.50" cy="284.87" r="0.5" fill="#2038d8" opacity="0.7"/>
<circle cx="222.23" cy="278.74" r="0.45" fill="#7090f0" opacity="0.7"/>
<circle cx="222.01" cy="282.67" r="0.45" fill="#7090f0" opacity="0.7"/>
<circle cx="223.77" cy="284.47" r="0.45" fill="#7090f0" opacity="0.7"/>
<circle cx="220.85" cy="276.23" r="0.45" fill="#7090f0" opacity="0.7"/>
<circle cx="221.55" cy="279.30" r="0.45" fill="#7090f0" opacity="0.7"/>
<circle cx="220.08" cy="282.42" r="0.45" fill="#7090f0" opacity="0.7"/>
<circle cx="221.32" cy="283.53" r="0.45" fill="#7090f0" opacity="0.7"/>
<circle cx="223.35" cy="280.93" r="0.45" fill="#7090f0" opacity="0.7"/>
<circle cx="226.95" cy="281.39" r="0.45" fill="#7090f0" opacity="0.7"/>
<circle cx="224.50" cy="283.61" r="0.45" fill="#7090f0" opacity="0.7"/>
<circle cx="224.53" cy="271.12" r="0.45" fill="#7090f0" opacity="0.7"/>
<circle cx="220.80" cy="284.24" r="0.45" fill="#7090f0" opacity="0.7"/>
<circle cx="223.50" cy="294.68" r="0.45" fill="#7090f0" opacity="0.7"/>
<circle cx="222.95" cy="289.40" r="0.45" fill="#7090f0" opacity="0.7"/>
<circle cx="223.83" cy="287.74" r="0.45" fill="#7090f0" opacity="0.7"/>
<circle cx="223.32" cy="282.22" r="0.45" fill="#7090f0" opacity="0.7"/>
<circle cx="223.32" cy="277.61" r="0.45" fill="#7090f0" opacity="0.7"/>
<circle cx="224.66" cy="277.91" r="0.45" fill="#7090f0" opacity="0.7"/>
<circle cx="222.80" cy="293.60" r="0.45" fill="#7090f0" opacity="0.7"/>
<circle cx="221.85" cy="283.10" r="0.45" fill="#7090f0" opacity="0.7"/>
<circle cx="224.63" cy="283.13" r="0.45" fill="#7090f0" opacity="0.7"/>
<circle cx="220.68" cy="284.29" r="0.45" fill="#7090f0" opacity="0.7"/>
<circle cx="223.46" cy="286.55" r="0.45" fill="#7090f0" opacity="0.7"/>
<circle cx="220.75" cy="291.76" r="0.45" fill="#7090f0" opacity="0.7"/>
<circle cx="225.63" cy="283.09" r="0.45" fill="#7090f0" opacity="0.7"/>
<circle cx="222.84" cy="280.86" r="0.45" fill="#7090f0" opacity="0.7"/>
<circle cx="225.13" cy="279.48" r="0.45" fill="#7090f0" opacity="0.7"/>
<circle cx="223.65" cy="280.60" r="0.45" fill="#7090f0" opacity="0.7"/>
<circle cx="220.91" cy="286.59" r="0.45" fill="#7090f0" opacity="0.7"/>
<circle cx="224.97" cy="282.95" r="0.45" fill="#7090f0" opacity="0.7"/>
<circle cx="220.95" cy="287.06" r="0.45" fill="#7090f0" opacity="0.7"/>
<circle cx="222.20" cy="284.55" r="0.45" fill="#7090f0" opacity="0.7"/>
<circle cx="225.35" cy="288.66" r="0.45" fill="#7090f0" opacity="0.7"/>
<circle cx="221.26" cy="294.42" r="0.45" fill="#7090f0" opacity="0.7"/>
<circle cx="222.31" cy="286.93" r="0.45" fill="#7090f0" opacity="0.7"/>
<circle cx="221.55" cy="271.43" r="0.5" fill="#2040e0" opacity="0.8"/>
<circle cx="220.78" cy="274.36" r="0.5" fill="#2040e0" opacity="0.8"/>
<circle cx="222.96" cy="269.56" r="0.5" fill="#2040e0" opacity="0.8"/>
<circle cx="220.95" cy="268.91" r="0.5" fill="#2040e0" opacity="0.8"/>
<circle cx="222.82" cy="270.76" r="0.5" fill="#2040e0" opacity="0.8"/>
<circle cx="221.96" cy="271.00" r="0.5" fill="#2040e0" opacity="0.8"/>
<circle cx="221.92" cy="269.76" r="0.5" fill="#2040e0" opacity="0.8"/>
<circle cx="222.02" cy="269.20" r="0.5" fill="#2040e0" opacity="0.8"/>
<circle cx="221.95" cy="271.99" r="0.5" fill="#2040e0" opacity="0.8"/>
<circle cx="222.33" cy="271.13" r="0.5" fill="#2040e0" opacity="0.8"/>
<circle cx="221.37" cy="271.76" r="0.5" fill="#2040e0" opacity="0.8"/>
<circle cx="221.66" cy="274.01" r="0.5" fill="#2040e0" opacity="0.8"/>
<circle cx="222.54" cy="271.32" r="0.5" fill="#2040e0" opacity="0.8"/>
<circle cx="221.67" cy="270.38" r="0.5" fill="#2040e0" opacity="0.8"/>
<circle cx="221.34" cy="270.94" r="0.5" fill="#2040e0" opacity="0.8"/>
<circle cx="222.21" cy="272.32" r="0.5" fill="#2040e0" opacity="0.8"/>
<circle cx="222.40" cy="274.86" r="0.5" fill="#2040e0" opacity="0.8"/>
<circle cx="221.51" cy="271.52" r="0.5" fill="#2040e0" opacity="0.8"/>
<radialGradient id="g4" cx="0.43" cy="0.48" r="0.5" fx="0.43" fy="0.48"><stop offset="0" stop-color="#e83000" stop-opacity="1"/><stop offset="0.08" stop-color="#f08000" stop-opacity="1"/><stop offset="0.16" stop-color="#e8d800" stop-opacity="1"/><stop offset="0.26" stop-color="#90e830" stop-opacity="1"/><stop offset="0.37" stop-color="#30e070" stop-opacity="1"/><stop offset="0.5" stop-color="#00c8e0" stop-opacity="1"/><stop offset="0.62" stop-color="#0090ff" stop-opacity="1"/><stop offset="0.72" stop-color="#0040f0" stop-opacity="1"/><stop offset="0.85" stop-color="#0818d8" stop-opacity="1"/><stop offset="0.94" stop-color="#1828d0" stop-opacity="0.75"/><stop offset="1" stop-color="#3040e0" stop-opacity="0"/></radialGradient>
<ellipse cx="184.5" cy="285.6" rx="7.2" ry="9.2" fill="url(#g4)" filter="url(#rough)"/>
<path d="M217.2 264.8 L212.6 268.6" stroke="#4060e8" stroke-width="1" stroke-linecap="round" opacity="0.6"/>
<path d="M217.8 263.6 Q220.5 260.8 224.6 257.6" stroke="#1a50f0" stroke-width="3.1" stroke-linecap="round"/>
<path d="M219.0 262.3 Q221.2 260.2 223.6 258.4" stroke="#10b8f0" stroke-width="1.3" stroke-linecap="round"/>
<rect x="215.2" y="255" width="12.4" height="9.8" fill="none" stroke="#c81ec8" stroke-width="1.4"/>
<rect x="216" y="273.6" width="12.8" height="20.4" fill="none" stroke="#28309a" stroke-width="1.3"/>
<text x="212.5" y="252" font-family="&quot;Liberation Mono&quot;, monospace" font-size="7.6" fill="#d68a8a" textLength="18" lengthAdjust="spacingAndGlyphs">5.34</text>
<text x="233.3" y="286.6" font-family="&quot;Liberation Mono&quot;, monospace" font-size="7.6" fill="#d68a8a" textLength="18" lengthAdjust="spacingAndGlyphs">5.58</text>
<path d="M298.5 219.7 H378 V300.8" stroke="#777" stroke-width="1.2" fill="none"/>
<path d="M298.5 219.2 V300.8 H378.6" stroke="#111" stroke-width="1.3" fill="none"/>
<path d="M296.10 300.80 H298.5" stroke="#222" stroke-width="0.8"/>
<path d="M298.50 300.8 V303.20" stroke="#222" stroke-width="0.9"/>
<path d="M296.80 294.02 H298.5" stroke="#222" stroke-width="0.8"/>
<path d="M305.15 300.8 V302.50" stroke="#222" stroke-width="0.9"/>
<path d="M296.80 290.05 H298.5" stroke="#222" stroke-width="0.8"/>
<path d="M309.04 300.8 V302.50" stroke="#222" stroke-width="0.9"/>
<path d="M296.80 287.24 H298.5" stroke="#222" stroke-width="0.8"/>
<path d="M311.80 300.8 V302.50" stroke="#222" stroke-width="0.9"/>
<path d="M296.80 285.05 H298.5" stroke="#222" stroke-width="0.8"/>
<path d="M313.94 300.8 V302.50" stroke="#222" stroke-width="0.9"/>
<path d="M296.80 283.27 H298.5" stroke="#222" stroke-width="0.8"/>
<path d="M315.68 300.8 V302.50" stroke="#222" stroke-width="0.9"/>
<path d="M296.80 281.76 H298.5" stroke="#222" stroke-width="0.8"/>
<path d="M317.16 300.8 V302.50" stroke="#222" stroke-width="0.9"/>
<path d="M296.80 280.46 H298.5" stroke="#222" stroke-width="0.8"/>
<path d="M318.44 300.8 V302.50" stroke="#222" stroke-width="0.9"/>
<path d="M296.80 279.30 H298.5" stroke="#222" stroke-width="0.8"/>
<path d="M319.57 300.8 V302.50" stroke="#222" stroke-width="0.9"/>
<path d="M296.10 278.27 H298.5" stroke="#222" stroke-width="0.8"/>
<path d="M320.58 300.8 V303.20" stroke="#222" stroke-width="0.9"/>
<path d="M296.80 271.49 H298.5" stroke="#222" stroke-width="0.8"/>
<path d="M327.23 300.8 V302.50" stroke="#222" stroke-width="0.9"/>
<path d="M296.80 267.52 H298.5" stroke="#222" stroke-width="0.8"/>
<path d="M331.12 300.8 V302.50" stroke="#222" stroke-width="0.9"/>
<path d="M296.80 264.71 H298.5" stroke="#222" stroke-width="0.8"/>
<path d="M333.88 300.8 V302.50" stroke="#222" stroke-width="0.9"/>
<path d="M296.80 262.53 H298.5" stroke="#222" stroke-width="0.8"/>
<path d="M336.02 300.8 V302.50" stroke="#222" stroke-width="0.9"/>
<path d="M296.80 260.74 H298.5" stroke="#222" stroke-width="0.8"/>
<path d="M337.77 300.8 V302.50" stroke="#222" stroke-width="0.9"/>
<path d="M296.80 259.23 H298.5" stroke="#222" stroke-width="0.8"/>
<path d="M339.25 300.8 V302.50" stroke="#222" stroke-width="0.9"/>
<path d="M296.80 257.93 H298.5" stroke="#222" stroke-width="0.8"/>
<path d="M340.53 300.8 V302.50" stroke="#222" stroke-width="0.9"/>
<path d="M296.80 256.78 H298.5" stroke="#222" stroke-width="0.8"/>
<path d="M341.66 300.8 V302.50" stroke="#222" stroke-width="0.9"/>
<path d="M296.10 255.74 H298.5" stroke="#222" stroke-width="0.8"/>
<path d="M342.67 300.8 V303.20" stroke="#222" stroke-width="0.9"/>
<path d="M296.80 248.96 H298.5" stroke="#222" stroke-width="0.8"/>
<path d="M349.31 300.8 V302.50" stroke="#222" stroke-width="0.9"/>
<path d="M296.80 245.00 H298.5" stroke="#222" stroke-width="0.8"/>
<path d="M353.20 300.8 V302.50" stroke="#222" stroke-width="0.9"/>
<path d="M296.80 242.18 H298.5" stroke="#222" stroke-width="0.8"/>
<path d="M355.96 300.8 V302.50" stroke="#222" stroke-width="0.9"/>
<path d="M296.80 240.00 H298.5" stroke="#222" stroke-width="0.8"/>
<path d="M358.10 300.8 V302.50" stroke="#222" stroke-width="0.9"/>
<path d="M296.80 238.21 H298.5" stroke="#222" stroke-width="0.8"/>
<path d="M359.85 300.8 V302.50" stroke="#222" stroke-width="0.9"/>
<path d="M296.80 236.71 H298.5" stroke="#222" stroke-width="0.8"/>
<path d="M361.33 300.8 V302.50" stroke="#222" stroke-width="0.9"/>
<path d="M296.80 235.40 H298.5" stroke="#222" stroke-width="0.8"/>
<path d="M362.61 300.8 V302.50" stroke="#222" stroke-width="0.9"/>
<path d="M296.80 234.25 H298.5" stroke="#222" stroke-width="0.8"/>
<path d="M363.74 300.8 V302.50" stroke="#222" stroke-width="0.9"/>
<path d="M296.10 233.22 H298.5" stroke="#222" stroke-width="0.8"/>
<path d="M364.75 300.8 V303.20" stroke="#222" stroke-width="0.9"/>
<path d="M296.80 226.44 H298.5" stroke="#222" stroke-width="0.8"/>
<path d="M371.40 300.8 V302.50" stroke="#222" stroke-width="0.9"/>
<path d="M296.80 222.47 H298.5" stroke="#222" stroke-width="0.8"/>
<path d="M375.29 300.8 V302.50" stroke="#222" stroke-width="0.9"/>
<text x="350.6" y="233" font-size="9" fill="#111" stroke="#111" stroke-width="0.22" textLength="22.8" lengthAdjust="spacingAndGlyphs">H001</text>
<circle cx="336.77" cy="274.53" r="0.4" fill="#8898ff" opacity="0.4"/>
<circle cx="316.87" cy="282.68" r="0.4" fill="#8898ff" opacity="0.4"/>
<circle cx="320.93" cy="283.63" r="0.4" fill="#8898ff" opacity="0.4"/>
<circle cx="318.57" cy="283.46" r="0.4" fill="#8898ff" opacity="0.4"/>
<circle cx="320.32" cy="285.09" r="0.4" fill="#8898ff" opacity="0.4"/>
<circle cx="308.64" cy="278.46" r="0.4" fill="#8898ff" opacity="0.4"/>
<circle cx="319.99" cy="277.87" r="0.4" fill="#8898ff" opacity="0.4"/>
<circle cx="313.73" cy="284.51" r="0.4" fill="#8898ff" opacity="0.4"/>
<circle cx="316.10" cy="284.54" r="0.4" fill="#8898ff" opacity="0.4"/>
<circle cx="324.47" cy="283.23" r="0.4" fill="#8898ff" opacity="0.4"/>
<circle cx="323.05" cy="281.58" r="0.4" fill="#8898ff" opacity="0.4"/>
<circle cx="311.55" cy="281.88" r="0.4" fill="#8898ff" opacity="0.4"/>
<circle cx="322.73" cy="279.88" r="0.4" fill="#8898ff" opacity="0.4"/>
<circle cx="319.40" cy="285.00" r="0.4" fill="#8898ff" opacity="0.4"/>
<circle cx="314.73" cy="284.56" r="0.4" fill="#8898ff" opacity="0.4"/>
<circle cx="331.18" cy="279.78" r="0.4" fill="#8898ff" opacity="0.4"/>
<circle cx="320.88" cy="281.40" r="0.4" fill="#8898ff" opacity="0.4"/>
<circle cx="329.24" cy="283.27" r="0.4" fill="#8898ff" opacity="0.4"/>
<circle cx="325.39" cy="279.24" r="0.4" fill="#8898ff" opacity="0.4"/>
<circle cx="319.90" cy="281.96" r="0.4" fill="#8898ff" opacity="0.4"/>
<circle cx="309.34" cy="287.76" r="0.4" fill="#8898ff" opacity="0.4"/>
<circle cx="325.40" cy="275.00" r="0.4" fill="#8898ff" opacity="0.4"/>
<circle cx="324.47" cy="281.48" r="0.4" fill="#8898ff" opacity="0.4"/>
<circle cx="322.69" cy="283.47" r="0.4" fill="#8898ff" opacity="0.4"/>
<circle cx="311.01" cy="281.15" r="0.4" fill="#8898ff" opacity="0.4"/>
<circle cx="328.96" cy="279.70" r="0.4" fill="#8898ff" opacity="0.4"/>
<circle cx="313.86" cy="276.56" r="0.4" fill="#8898ff" opacity="0.4"/>
<circle cx="312.67" cy="283.34" r="0.4" fill="#8898ff" opacity="0.4"/>
<circle cx="330.16" cy="283.72" r="0.4" fill="#8898ff" opacity="0.4"/>
<circle cx="321.47" cy="290.93" r="0.4" fill="#8898ff" opacity="0.4"/>
<circle cx="316.88" cy="279.30" r="0.4" fill="#8898ff" opacity="0.4"/>
<circle cx="323.17" cy="284.19" r="0.4" fill="#8898ff" opacity="0.4"/>
<circle cx="313.91" cy="277.32" r="0.4" fill="#8898ff" opacity="0.4"/>
<circle cx="321.75" cy="282.99" r="0.4" fill="#8898ff" opacity="0.4"/>
<circle cx="312.16" cy="281.19" r="0.4" fill="#8898ff" opacity="0.4"/>
<circle cx="316.74" cy="283.84" r="0.4" fill="#8898ff" opacity="0.4"/>
<circle cx="319.30" cy="281.66" r="0.4" fill="#8898ff" opacity="0.4"/>
<circle cx="317.88" cy="286.21" r="0.4" fill="#8898ff" opacity="0.4"/>
<circle cx="328.34" cy="280.53" r="0.4" fill="#8898ff" opacity="0.4"/>
<circle cx="325.08" cy="278.97" r="0.4" fill="#8898ff" opacity="0.4"/>
<circle cx="320.43" cy="285.00" r="0.4" fill="#8898ff" opacity="0.4"/>
<circle cx="329.09" cy="280.47" r="0.4" fill="#8898ff" opacity="0.4"/>
<circle cx="319.56" cy="282.79" r="0.4" fill="#8898ff" opacity="0.4"/>
<circle cx="311.01" cy="282.06" r="0.4" fill="#8898ff" opacity="0.4"/>
<circle cx="315.94" cy="283.49" r="0.4" fill="#8898ff" opacity="0.4"/>
<circle cx="313.22" cy="274.09" r="0.4" fill="#8898ff" opacity="0.4"/>
<circle cx="320.23" cy="283.04" r="0.4" fill="#8898ff" opacity="0.4"/>
<circle cx="316.71" cy="285.56" r="0.4" fill="#8898ff" opacity="0.4"/>
<circle cx="318.36" cy="279.58" r="0.4" fill="#8898ff" opacity="0.4"/>
<circle cx="322.87" cy="275.73" r="0.4" fill="#8898ff" opacity="0.4"/>
<radialGradient id="g5" cx="0.4" cy="0.42" r="0.5" fx="0.4" fy="0.42"><stop offset="0" stop-color="#e8b000" stop-opacity="1"/><stop offset="0.1" stop-color="#d8d800" stop-opacity="1"/><stop offset="0.22" stop-color="#90e030" stop-opacity="1"/><stop offset="0.36" stop-color="#40e060" stop-opacity="1"/><stop offset="0.5" stop-color="#10d0c0" stop-opacity="1"/><stop offset="0.62" stop-color="#00a0f0" stop-opacity="1"/><stop offset="0.74" stop-color="#0060f0" stop-opacity="1"/><stop offset="0.86" stop-color="#1030e0" stop-opacity="1"/><stop offset="0.95" stop-color="#1828d0" stop-opacity="0.6"/><stop offset="1" stop-color="#3040e0" stop-opacity="0"/></radialGradient>
<ellipse cx="308.7" cy="282.5" rx="6.0" ry="8.8" fill="url(#g5)" filter="url(#rough)"/>
<radialGradient id="g6" cx="0.5" cy="0.5" r="0.5" fx="0.5" fy="0.5"><stop offset="0" stop-color="#40a8f0" stop-opacity="1"/><stop offset="0.3" stop-color="#3088f0" stop-opacity="1"/><stop offset="0.6" stop-color="#2050e8" stop-opacity="0.95"/><stop offset="0.85" stop-color="#2040e0" stop-opacity="0.6"/><stop offset="1" stop-color="#4050ff" stop-opacity="0"/></radialGradient>
<ellipse cx="308.1" cy="261.8" rx="4.8" ry="5.2" fill="url(#g6)" filter="url(#rough)"/>
<circle cx="306.47" cy="261.75" r="0.45" fill="#2050e0" opacity="0.6"/>
<circle cx="310.14" cy="261.38" r="0.45" fill="#2050e0" opacity="0.6"/>
<circle cx="308.84" cy="260.10" r="0.45" fill="#2050e0" opacity="0.6"/>
<circle cx="308.82" cy="266.13" r="0.45" fill="#2050e0" opacity="0.6"/>
<circle cx="306.45" cy="267.95" r="0.45" fill="#2050e0" opacity="0.6"/>
<circle cx="306.55" cy="261.84" r="0.45" fill="#2050e0" opacity="0.6"/>
<circle cx="308.52" cy="264.46" r="0.45" fill="#2050e0" opacity="0.6"/>
<circle cx="305.13" cy="256.34" r="0.45" fill="#2050e0" opacity="0.6"/>
<circle cx="309.55" cy="263.87" r="0.45" fill="#2050e0" opacity="0.6"/>
<circle cx="309.60" cy="268.64" r="0.45" fill="#2050e0" opacity="0.6"/>
<circle cx="308.59" cy="262.46" r="0.45" fill="#2050e0" opacity="0.6"/>
<circle cx="310.33" cy="262.76" r="0.45" fill="#2050e0" opacity="0.6"/>
<circle cx="312.09" cy="258.58" r="0.45" fill="#2050e0" opacity="0.6"/>
<circle cx="307.20" cy="252.84" r="0.45" fill="#2050e0" opacity="0.6"/>
<circle cx="310.05" cy="260.83" r="0.45" fill="#2050e0" opacity="0.6"/>
<circle cx="310.32" cy="267.40" r="0.45" fill="#2050e0" opacity="0.6"/>
<circle cx="308.09" cy="261.14" r="0.45" fill="#2050e0" opacity="0.6"/>
<circle cx="306.90" cy="259.62" r="0.45" fill="#2050e0" opacity="0.6"/>
<circle cx="306.59" cy="263.46" r="0.45" fill="#2050e0" opacity="0.6"/>
<circle cx="308.19" cy="261.97" r="0.45" fill="#2050e0" opacity="0.6"/>
<circle cx="307.68" cy="264.18" r="0.45" fill="#2050e0" opacity="0.6"/>
<circle cx="309.29" cy="261.43" r="0.45" fill="#2050e0" opacity="0.6"/>
<circle cx="309.70" cy="261.41" r="0.45" fill="#2050e0" opacity="0.6"/>
<circle cx="305.33" cy="265.58" r="0.45" fill="#2050e0" opacity="0.6"/>
<circle cx="309.22" cy="259.31" r="0.45" fill="#2050e0" opacity="0.6"/>
<circle cx="310.69" cy="262.70" r="0.45" fill="#2050e0" opacity="0.6"/>
<circle cx="304.35" cy="265.99" r="0.45" fill="#2050e0" opacity="0.6"/>
<circle cx="308.90" cy="264.12" r="0.45" fill="#2050e0" opacity="0.6"/>
<circle cx="308.57" cy="261.41" r="0.45" fill="#2050e0" opacity="0.6"/>
<circle cx="304.38" cy="264.33" r="0.45" fill="#2050e0" opacity="0.6"/>
<circle cx="308.02" cy="269.76" r="0.45" fill="#3060e8" opacity="0.6"/>
<circle cx="308.28" cy="270.70" r="0.45" fill="#3060e8" opacity="0.6"/>
<circle cx="308.54" cy="269.54" r="0.45" fill="#3060e8" opacity="0.6"/>
<circle cx="307.97" cy="264.94" r="0.45" fill="#3060e8" opacity="0.6"/>
<circle cx="307.66" cy="272.26" r="0.45" fill="#3060e8" opacity="0.6"/>
<circle cx="309.07" cy="269.55" r="0.45" fill="#3060e8" opacity="0.6"/>
<circle cx="307.90" cy="274.62" r="0.45" fill="#3060e8" opacity="0.6"/>
<circle cx="307.74" cy="272.41" r="0.45" fill="#3060e8" opacity="0.6"/>
<circle cx="309.34" cy="270.60" r="0.45" fill="#3060e8" opacity="0.6"/>
<circle cx="308.98" cy="268.65" r="0.45" fill="#3060e8" opacity="0.6"/>
<circle cx="308.17" cy="270.30" r="0.45" fill="#3060e8" opacity="0.6"/>
<circle cx="308.09" cy="273.44" r="0.45" fill="#3060e8" opacity="0.6"/>
<circle cx="309.91" cy="268.77" r="0.45" fill="#3060e8" opacity="0.6"/>
<circle cx="307.54" cy="271.79" r="0.45" fill="#3060e8" opacity="0.6"/>
<circle cx="307.16" cy="271.79" r="0.45" fill="#3060e8" opacity="0.6"/>
<circle cx="308.46" cy="269.78" r="0.45" fill="#3060e8" opacity="0.6"/>
<circle cx="308.42" cy="266.47" r="0.45" fill="#3060e8" opacity="0.6"/>
<circle cx="308.61" cy="266.48" r="0.45" fill="#3060e8" opacity="0.6"/>
<circle cx="307.44" cy="269.05" r="0.45" fill="#3060e8" opacity="0.6"/>
<circle cx="307.68" cy="272.73" r="0.45" fill="#3060e8" opacity="0.6"/>
<circle cx="308.07" cy="269.47" r="0.45" fill="#3060e8" opacity="0.6"/>
<circle cx="308.43" cy="274.61" r="0.45" fill="#3060e8" opacity="0.6"/>
<circle cx="308.00" cy="271.45" r="0.45" fill="#3060e8" opacity="0.6"/>
<circle cx="308.99" cy="271.20" r="0.45" fill="#3060e8" opacity="0.6"/>
<circle cx="306.97" cy="276.97" r="0.45" fill="#3060e8" opacity="0.6"/>
<rect x="299.1" y="254.5" width="17.7" height="12.2" fill="none" stroke="#c01c2c" stroke-width="1.6"/>
<text x="301.8" y="251.6" font-family="&quot;Liberation Mono&quot;, monospace" font-size="7.6" fill="#d68a8a" textLength="18.4" lengthAdjust="spacingAndGlyphs">11.8</text>
<path d="M422.2 219.7 H502 V300.8" stroke="#777" stroke-width="1.2" fill="none"/>
<path d="M422.2 219.2 V300.8 H502.6" stroke="#111" stroke-width="1.3" fill="none"/>
<path d="M419.80 300.80 H422.2" stroke="#222" stroke-width="0.8"/>
<path d="M422.20 300.8 V303.20" stroke="#222" stroke-width="0.9"/>
<path d="M420.50 294.02 H422.2" stroke="#222" stroke-width="0.8"/>
<path d="M428.87 300.8 V302.50" stroke="#222" stroke-width="0.9"/>
<path d="M420.50 290.05 H422.2" stroke="#222" stroke-width="0.8"/>
<path d="M432.78 300.8 V302.50" stroke="#222" stroke-width="0.9"/>
<path d="M420.50 287.24 H422.2" stroke="#222" stroke-width="0.8"/>
<path d="M435.55 300.8 V302.50" stroke="#222" stroke-width="0.9"/>
<path d="M420.50 285.05 H422.2" stroke="#222" stroke-width="0.8"/>
<path d="M437.69 300.8 V302.50" stroke="#222" stroke-width="0.9"/>
<path d="M420.50 283.27 H422.2" stroke="#222" stroke-width="0.8"/>
<path d="M439.45 300.8 V302.50" stroke="#222" stroke-width="0.9"/>
<path d="M420.50 281.76 H422.2" stroke="#222" stroke-width="0.8"/>
<path d="M440.93 300.8 V302.50" stroke="#222" stroke-width="0.9"/>
<path d="M420.50 280.46 H422.2" stroke="#222" stroke-width="0.8"/>
<path d="M442.22 300.8 V302.50" stroke="#222" stroke-width="0.9"/>
<path d="M420.50 279.30 H422.2" stroke="#222" stroke-width="0.8"/>
<path d="M443.35 300.8 V302.50" stroke="#222" stroke-width="0.9"/>
<path d="M419.80 278.27 H422.2" stroke="#222" stroke-width="0.8"/>
<path d="M444.37 300.8 V303.20" stroke="#222" stroke-width="0.9"/>
<path d="M420.50 271.49 H422.2" stroke="#222" stroke-width="0.8"/>
<path d="M451.04 300.8 V302.50" stroke="#222" stroke-width="0.9"/>
<path d="M420.50 267.52 H422.2" stroke="#222" stroke-width="0.8"/>
<path d="M454.94 300.8 V302.50" stroke="#222" stroke-width="0.9"/>
<path d="M420.50 264.71 H422.2" stroke="#222" stroke-width="0.8"/>
<path d="M457.71 300.8 V302.50" stroke="#222" stroke-width="0.9"/>
<path d="M420.50 262.53 H422.2" stroke="#222" stroke-width="0.8"/>
<path d="M459.86 300.8 V302.50" stroke="#222" stroke-width="0.9"/>
<path d="M420.50 260.74 H422.2" stroke="#222" stroke-width="0.8"/>
<path d="M461.62 300.8 V302.50" stroke="#222" stroke-width="0.9"/>
<path d="M420.50 259.23 H422.2" stroke="#222" stroke-width="0.8"/>
<path d="M463.10 300.8 V302.50" stroke="#222" stroke-width="0.9"/>
<path d="M420.50 257.93 H422.2" stroke="#222" stroke-width="0.8"/>
<path d="M464.39 300.8 V302.50" stroke="#222" stroke-width="0.9"/>
<path d="M420.50 256.78 H422.2" stroke="#222" stroke-width="0.8"/>
<path d="M465.52 300.8 V302.50" stroke="#222" stroke-width="0.9"/>
<path d="M419.80 255.74 H422.2" stroke="#222" stroke-width="0.8"/>
<path d="M466.53 300.8 V303.20" stroke="#222" stroke-width="0.9"/>
<path d="M420.50 248.96 H422.2" stroke="#222" stroke-width="0.8"/>
<path d="M473.21 300.8 V302.50" stroke="#222" stroke-width="0.9"/>
<path d="M420.50 245.00 H422.2" stroke="#222" stroke-width="0.8"/>
<path d="M477.11 300.8 V302.50" stroke="#222" stroke-width="0.9"/>
<path d="M420.50 242.18 H422.2" stroke="#222" stroke-width="0.8"/>
<path d="M479.88 300.8 V302.50" stroke="#222" stroke-width="0.9"/>
<path d="M420.50 240.00 H422.2" stroke="#222" stroke-width="0.8"/>
<path d="M482.03 300.8 V302.50" stroke="#222" stroke-width="0.9"/>
<path d="M420.50 238.21 H422.2" stroke="#222" stroke-width="0.8"/>
<path d="M483.78 300.8 V302.50" stroke="#222" stroke-width="0.9"/>
<path d="M420.50 236.71 H422.2" stroke="#222" stroke-width="0.8"/>
<path d="M485.27 300.8 V302.50" stroke="#222" stroke-width="0.9"/>
<path d="M420.50 235.40 H422.2" stroke="#222" stroke-width="0.8"/>
<path d="M486.55 300.8 V302.50" stroke="#222" stroke-width="0.9"/>
<path d="M420.50 234.25 H422.2" stroke="#222" stroke-width="0.8"/>
<path d="M487.69 300.8 V302.50" stroke="#222" stroke-width="0.9"/>
<path d="M419.80 233.22 H422.2" stroke="#222" stroke-width="0.8"/>
<path d="M488.70 300.8 V303.20" stroke="#222" stroke-width="0.9"/>
<path d="M420.50 226.44 H422.2" stroke="#222" stroke-width="0.8"/>
<path d="M495.37 300.8 V302.50" stroke="#222" stroke-width="0.9"/>
<path d="M420.50 222.47 H422.2" stroke="#222" stroke-width="0.8"/>
<path d="M499.28 300.8 V302.50" stroke="#222" stroke-width="0.9"/>
<text x="473.6" y="233" font-size="9" fill="#111" stroke="#111" stroke-width="0.22" textLength="22.8" lengthAdjust="spacingAndGlyphs">H569</text>
<circle cx="459.25" cy="278.06" r="0.4" fill="#8898ff" opacity="0.4"/>
<circle cx="445.77" cy="287.67" r="0.4" fill="#8898ff" opacity="0.4"/>
<circle cx="451.79" cy="288.68" r="0.4" fill="#8898ff" opacity="0.4"/>
<circle cx="444.37" cy="281.78" r="0.4" fill="#8898ff" opacity="0.4"/>
<circle cx="446.62" cy="290.13" r="0.4" fill="#8898ff" opacity="0.4"/>
<circle cx="439.46" cy="281.89" r="0.4" fill="#8898ff" opacity="0.4"/>
<circle cx="445.85" cy="278.25" r="0.4" fill="#8898ff" opacity="0.4"/>
<circle cx="444.44" cy="284.25" r="0.4" fill="#8898ff" opacity="0.4"/>
<circle cx="448.70" cy="283.19" r="0.4" fill="#8898ff" opacity="0.4"/>
<circle cx="440.71" cy="284.42" r="0.4" fill="#8898ff" opacity="0.4"/>
<circle cx="445.70" cy="283.34" r="0.4" fill="#8898ff" opacity="0.4"/>
<circle cx="446.07" cy="289.00" r="0.4" fill="#8898ff" opacity="0.4"/>
<circle cx="453.11" cy="292.82" r="0.4" fill="#8898ff" opacity="0.4"/>
<circle cx="441.30" cy="284.32" r="0.4" fill="#8898ff" opacity="0.4"/>
<circle cx="431.10" cy="293.60" r="0.4" fill="#8898ff" opacity="0.4"/>
<circle cx="441.65" cy="285.87" r="0.4" fill="#8898ff" opacity="0.4"/>
<circle cx="449.14" cy="280.57" r="0.4" fill="#8898ff" opacity="0.4"/>
<circle cx="448.78" cy="285.89" r="0.4" fill="#8898ff" opacity="0.4"/>
<circle cx="435.04" cy="287.17" r="0.4" fill="#8898ff" opacity="0.4"/>
<circle cx="453.17" cy="278.53" r="0.4" fill="#8898ff" opacity="0.4"/>
<circle cx="450.84" cy="286.84" r="0.4" fill="#8898ff" opacity="0.4"/>
<circle cx="448.85" cy="287.77" r="0.4" fill="#8898ff" opacity="0.4"/>
<circle cx="453.82" cy="285.11" r="0.4" fill="#8898ff" opacity="0.4"/>
<circle cx="451.24" cy="284.36" r="0.4" fill="#8898ff" opacity="0.4"/>
<circle cx="450.37" cy="282.74" r="0.4" fill="#8898ff" opacity="0.4"/>
<circle cx="445.35" cy="292.92" r="0.4" fill="#8898ff" opacity="0.4"/>
<circle cx="448.67" cy="285.37" r="0.4" fill="#8898ff" opacity="0.4"/>
<circle cx="439.13" cy="282.84" r="0.4" fill="#8898ff" opacity="0.4"/>
<circle cx="447.16" cy="289.76" r="0.4" fill="#8898ff" opacity="0.4"/>
<circle cx="448.56" cy="288.10" r="0.4" fill="#8898ff" opacity="0.4"/>
<circle cx="445.75" cy="291.41" r="0.4" fill="#8898ff" opacity="0.4"/>
<circle cx="443.66" cy="283.80" r="0.4" fill="#8898ff" opacity="0.4"/>
<circle cx="451.33" cy="286.25" r="0.4" fill="#8898ff" opacity="0.4"/>
<circle cx="444.33" cy="283.70" r="0.4" fill="#8898ff" opacity="0.4"/>
<circle cx="444.46" cy="288.49" r="0.4" fill="#8898ff" opacity="0.4"/>
<circle cx="448.12" cy="281.16" r="0.4" fill="#8898ff" opacity="0.4"/>
<circle cx="448.56" cy="286.72" r="0.4" fill="#8898ff" opacity="0.4"/>
<circle cx="440.00" cy="289.09" r="0.4" fill="#8898ff" opacity="0.4"/>
<circle cx="444.32" cy="284.66" r="0.4" fill="#8898ff" opacity="0.4"/>
<circle cx="450.77" cy="291.28" r="0.4" fill="#8898ff" opacity="0.4"/>
<radialGradient id="g7" cx="0.4" cy="0.5" r="0.5" fx="0.4" fy="0.5"><stop offset="0" stop-color="#e83000" stop-opacity="1"/><stop offset="0.08" stop-color="#f08000" stop-opacity="1"/><stop offset="0.16" stop-color="#e8d800" stop-opacity="1"/><stop offset="0.26" stop-color="#90e830" stop-opacity="1"/><stop offset="0.37" stop-color="#30e070" stop-opacity="1"/><stop offset="0.5" stop-color="#00c8e0" stop-opacity="1"/><stop offset="0.62" stop-color="#0090ff" stop-opacity="1"/><stop offset="0.72" stop-color="#0040f0" stop-opacity="1"/><stop offset="0.85" stop-color="#0818d8" stop-opacity="1"/><stop offset="0.94" stop-color="#1828d0" stop-opacity="0.75"/><stop offset="1" stop-color="#3040e0" stop-opacity="0"/></radialGradient>
<ellipse cx="434.0" cy="285.2" rx="9.0" ry="11.2" fill="url(#g7)" filter="url(#rough)"/>
<radialGradient id="g8" cx="0.5" cy="0.5" r="0.5" fx="0.5" fy="0.5"><stop offset="0" stop-color="#1030e0" stop-opacity="1"/><stop offset="0.4" stop-color="#1838e0" stop-opacity="1"/><stop offset="0.7" stop-color="#3050e8" stop-opacity="0.8"/><stop offset="1" stop-color="#6080ff" stop-opacity="0"/></radialGradient>
<ellipse cx="432.2" cy="257.8" rx="5.4" ry="6.2" fill="url(#g8)" filter="url(#rough)"/>
<circle cx="430.27" cy="259.11" r="0.5" fill="#1428c8" opacity="0.75"/>
<circle cx="429.75" cy="264.74" r="0.5" fill="#1428c8" opacity="0.75"/>
<circle cx="430.82" cy="261.38" r="0.5" fill="#1428c8" opacity="0.75"/>
<circle cx="430.39" cy="260.23" r="0.5" fill="#1428c8" opacity="0.75"/>
<circle cx="438.41" cy="250.18" r="0.5" fill="#1428c8" opacity="0.75"/>
<circle cx="430.98" cy="259.30" r="0.5" fill="#1428c8" opacity="0.75"/>
<circle cx="431.94" cy="255.79" r="0.5" fill="#1428c8" opacity="0.75"/>
<circle cx="438.23" cy="258.04" r="0.5" fill="#1428c8" opacity="0.75"/>
<circle cx="427.60" cy="260.36" r="0.5" fill="#1428c8" opacity="0.75"/>
<circle cx="427.38" cy="261.25" r="0.5" fill="#1428c8" opacity="0.75"/>
<circle cx="430.58" cy="258.23" r="0.5" fill="#1428c8" opacity="0.75"/>
<circle cx="435.73" cy="258.15" r="0.5" fill="#1428c8" opacity="0.75"/>
<circle cx="428.30" cy="252.71" r="0.5" fill="#1428c8" opacity="0.75"/>
<circle cx="435.51" cy="260.02" r="0.5" fill="#1428c8" opacity="0.75"/>
<circle cx="429.92" cy="260.38" r="0.5" fill="#1428c8" opacity="0.75"/>
<circle cx="433.59" cy="259.74" r="0.5" fill="#1428c8" opacity="0.75"/>
<circle cx="425.88" cy="256.89" r="0.5" fill="#1428c8" opacity="0.75"/>
<circle cx="434.72" cy="260.00" r="0.5" fill="#1428c8" opacity="0.75"/>
<circle cx="434.67" cy="250.43" r="0.5" fill="#1428c8" opacity="0.75"/>
<circle cx="432.67" cy="259.28" r="0.5" fill="#1428c8" opacity="0.75"/>
<circle cx="439.35" cy="254.94" r="0.5" fill="#1428c8" opacity="0.75"/>
<circle cx="431.28" cy="257.91" r="0.5" fill="#1428c8" opacity="0.75"/>
<circle cx="434.68" cy="256.47" r="0.5" fill="#1428c8" opacity="0.75"/>
<circle cx="435.41" cy="255.44" r="0.5" fill="#1428c8" opacity="0.75"/>
<circle cx="432.95" cy="256.22" r="0.5" fill="#1428c8" opacity="0.75"/>
<circle cx="432.64" cy="255.73" r="0.5" fill="#1428c8" opacity="0.75"/>
<circle cx="427.73" cy="261.08" r="0.5" fill="#1428c8" opacity="0.75"/>
<circle cx="433.05" cy="256.12" r="0.5" fill="#1428c8" opacity="0.75"/>
<circle cx="432.76" cy="260.77" r="0.5" fill="#1428c8" opacity="0.75"/>
<circle cx="429.46" cy="257.47" r="0.5" fill="#1428c8" opacity="0.75"/>
<circle cx="433.71" cy="259.38" r="0.5" fill="#1428c8" opacity="0.75"/>
<circle cx="431.26" cy="251.48" r="0.5" fill="#1428c8" opacity="0.75"/>
<circle cx="435.68" cy="258.78" r="0.5" fill="#1428c8" opacity="0.75"/>
<circle cx="432.24" cy="256.96" r="0.5" fill="#1428c8" opacity="0.75"/>
<circle cx="432.94" cy="256.52" r="0.5" fill="#1428c8" opacity="0.75"/>
<circle cx="429.33" cy="255.58" r="0.5" fill="#1428c8" opacity="0.75"/>
<circle cx="430.53" cy="255.96" r="0.5" fill="#1428c8" opacity="0.75"/>
<circle cx="428.96" cy="259.71" r="0.5" fill="#1428c8" opacity="0.75"/>
<circle cx="428.53" cy="259.78" r="0.5" fill="#1428c8" opacity="0.75"/>
<circle cx="429.36" cy="258.86" r="0.5" fill="#1428c8" opacity="0.75"/>
<circle cx="436.05" cy="258.41" r="0.5" fill="#1428c8" opacity="0.75"/>
<circle cx="430.15" cy="257.94" r="0.5" fill="#1428c8" opacity="0.75"/>
<circle cx="432.61" cy="252.60" r="0.5" fill="#1428c8" opacity="0.75"/>
<circle cx="430.50" cy="258.29" r="0.5" fill="#1428c8" opacity="0.75"/>
<circle cx="430.89" cy="258.04" r="0.5" fill="#1428c8" opacity="0.75"/>
<circle cx="434.26" cy="260.10" r="0.5" fill="#1428c8" opacity="0.75"/>
<circle cx="434.74" cy="259.57" r="0.5" fill="#1428c8" opacity="0.75"/>
<circle cx="431.39" cy="257.74" r="0.5" fill="#1428c8" opacity="0.75"/>
<circle cx="431.44" cy="256.86" r="0.5" fill="#1428c8" opacity="0.75"/>
<circle cx="431.70" cy="252.63" r="0.5" fill="#1428c8" opacity="0.75"/>
<circle cx="431.27" cy="257.73" r="0.5" fill="#1428c8" opacity="0.75"/>
<circle cx="429.47" cy="257.73" r="0.5" fill="#1428c8" opacity="0.75"/>
<circle cx="433.64" cy="257.31" r="0.5" fill="#1428c8" opacity="0.75"/>
<circle cx="438.01" cy="249.98" r="0.5" fill="#1428c8" opacity="0.75"/>
<circle cx="431.62" cy="252.32" r="0.5" fill="#1428c8" opacity="0.75"/>
<circle cx="434.94" cy="265.76" r="0.5" fill="#1428c8" opacity="0.75"/>
<circle cx="425.19" cy="258.18" r="0.5" fill="#1428c8" opacity="0.75"/>
<circle cx="433.65" cy="256.89" r="0.5" fill="#1428c8" opacity="0.75"/>
<circle cx="433.74" cy="251.07" r="0.5" fill="#1428c8" opacity="0.75"/>
<circle cx="434.59" cy="258.92" r="0.5" fill="#1428c8" opacity="0.75"/>
<circle cx="432.26" cy="256.04" r="0.5" fill="#1428c8" opacity="0.75"/>
<circle cx="433.99" cy="256.34" r="0.5" fill="#1428c8" opacity="0.75"/>
<circle cx="432.82" cy="256.27" r="0.5" fill="#1428c8" opacity="0.75"/>
<circle cx="425.91" cy="257.71" r="0.5" fill="#1428c8" opacity="0.75"/>
<circle cx="432.77" cy="260.06" r="0.5" fill="#1428c8" opacity="0.75"/>
<circle cx="429.75" cy="257.70" r="0.5" fill="#1428c8" opacity="0.75"/>
<circle cx="433.93" cy="258.24" r="0.5" fill="#1428c8" opacity="0.75"/>
<circle cx="435.68" cy="263.77" r="0.5" fill="#1428c8" opacity="0.75"/>
<circle cx="429.66" cy="252.04" r="0.5" fill="#1428c8" opacity="0.75"/>
<circle cx="434.60" cy="262.39" r="0.5" fill="#1428c8" opacity="0.75"/>
<circle cx="433.93" cy="259.75" r="0.4" fill="#6a8cf0" opacity="0.8"/>
<circle cx="430.54" cy="256.09" r="0.4" fill="#6a8cf0" opacity="0.8"/>
<circle cx="433.85" cy="255.61" r="0.4" fill="#6a8cf0" opacity="0.8"/>
<circle cx="427.91" cy="255.41" r="0.4" fill="#6a8cf0" opacity="0.8"/>
<circle cx="437.38" cy="262.42" r="0.4" fill="#6a8cf0" opacity="0.8"/>
<circle cx="430.39" cy="256.05" r="0.4" fill="#6a8cf0" opacity="0.8"/>
<circle cx="432.41" cy="256.00" r="0.4" fill="#6a8cf0" opacity="0.8"/>
<circle cx="434.78" cy="257.61" r="0.4" fill="#6a8cf0" opacity="0.8"/>
<circle cx="429.51" cy="260.94" r="0.4" fill="#6a8cf0" opacity="0.8"/>
<circle cx="430.62" cy="258.33" r="0.4" fill="#6a8cf0" opacity="0.8"/>
<circle cx="431.87" cy="257.05" r="0.4" fill="#6a8cf0" opacity="0.8"/>
<circle cx="432.61" cy="256.14" r="0.4" fill="#6a8cf0" opacity="0.8"/>
<circle cx="427.84" cy="252.50" r="0.4" fill="#6a8cf0" opacity="0.8"/>
<circle cx="429.11" cy="255.98" r="0.4" fill="#6a8cf0" opacity="0.8"/>
<circle cx="431.85" cy="257.93" r="0.4" fill="#6a8cf0" opacity="0.8"/>
<circle cx="433.12" cy="258.09" r="0.4" fill="#6a8cf0" opacity="0.8"/>
<circle cx="430.15" cy="256.10" r="0.4" fill="#6a8cf0" opacity="0.8"/>
<circle cx="427.24" cy="257.39" r="0.4" fill="#6a8cf0" opacity="0.8"/>
<circle cx="432.97" cy="259.07" r="0.4" fill="#6a8cf0" opacity="0.8"/>
<circle cx="431.63" cy="257.38" r="0.4" fill="#6a8cf0" opacity="0.8"/>
<circle cx="433.96" cy="257.84" r="0.4" fill="#6a8cf0" opacity="0.8"/>
<circle cx="433.52" cy="259.20" r="0.4" fill="#6a8cf0" opacity="0.8"/>
<circle cx="432.37" cy="260.94" r="0.4" fill="#6a8cf0" opacity="0.8"/>
<circle cx="430.64" cy="256.94" r="0.4" fill="#6a8cf0" opacity="0.8"/>
<circle cx="430.12" cy="255.89" r="0.4" fill="#6a8cf0" opacity="0.8"/>
<rect x="425.4" y="251.6" width="13.6" height="13.2" fill="none" stroke="#c01c2c" stroke-width="1.6"/>
<text x="424.9" y="248.4" font-family="&quot;Liberation Mono&quot;, monospace" font-size="7.6" fill="#d68a8a" textLength="17.4" lengthAdjust="spacingAndGlyphs">0.89</text>
</svg>
</body></html>
